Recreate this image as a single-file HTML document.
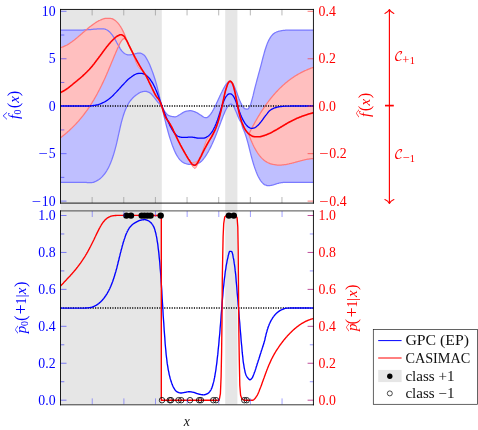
<!DOCTYPE html><html><head><meta charset="utf-8"><title>GPC vs CASIMAC</title><style>html,body{margin:0;padding:0;background:#fff}svg{display:block}</style></head><body><svg width="478" height="430" viewBox="0 0 478 430">
<rect width="478" height="430" fill="#fff"/>
<rect x="60.5" y="9.4" width="101.3" height="395.0" fill="#e6e6e6"/>
<rect x="225.2" y="9.4" width="12.2" height="395.0" fill="#e6e6e6"/>
<clipPath id="c0"><rect x="60.5" y="9.4" width="253.1" height="193.6"/></clipPath>
<clipPath id="c1"><rect x="60.5" y="211.0" width="253.1" height="193.4"/></clipPath>
<g clip-path="url(#c0)">
<path d="M60.5 30.1L61.0 30.1L61.5 30.1L62.0 30.1L62.5 30.1L63.0 30.1L63.5 30.1L64.0 30.1L64.5 30.1L65.0 30.1L65.5 30.1L66.0 30.1L66.5 30.1L67.0 30.1L67.5 30.1L68.0 30.1L68.5 30.1L69.0 30.1L69.5 30.1L70.0 30.1L70.5 30.1L71.0 30.1L71.5 30.1L72.0 30.1L72.5 30.1L73.0 30.1L73.5 30.1L74.0 30.1L74.5 30.1L75.0 30.1L75.5 30.1L76.0 30.1L76.5 30.1L77.0 30.1L77.5 30.1L78.0 30.1L78.5 30.1L79.0 30.1L79.5 30.1L80.0 30.1L80.5 30.1L81.0 30.0L81.5 30.0L82.0 30.0L82.5 30.0L83.0 30.0L83.5 30.0L84.0 29.9L84.5 29.9L85.0 29.9L85.5 29.9L86.0 29.8L86.5 29.8L87.0 29.8L87.5 29.7L88.0 29.7L88.5 29.7L89.0 29.6L89.5 29.6L90.0 29.6L90.5 29.5L91.0 29.5L91.5 29.4L92.0 29.4L92.5 29.3L93.0 29.3L93.5 29.2L94.0 29.2L94.5 29.1L95.0 29.1L95.5 29.0L96.0 29.0L96.5 29.0L97.0 28.9L97.5 28.9L98.0 28.8L98.5 28.8L99.0 28.8L99.5 28.8L100.0 28.8L100.5 28.8L101.0 28.8L101.5 28.8L102.0 28.8L102.5 28.8L103.0 28.9L103.5 28.9L104.0 28.9L104.5 29.0L105.0 29.1L105.5 29.3L106.0 29.5L106.5 29.8L107.0 30.0L107.5 30.3L108.0 30.6L108.5 31.0L109.0 31.4L109.5 31.8L110.0 32.3L110.5 32.9L111.0 33.5L111.5 34.1L112.0 34.7L112.5 35.4L113.0 36.1L113.5 36.9L114.0 37.7L114.5 38.5L115.0 39.3L115.5 40.2L116.0 41.1L116.5 42.0L117.0 43.0L117.5 43.9L118.0 44.8L118.5 45.7L119.0 46.5L119.5 47.4L120.0 48.3L120.5 49.1L121.0 49.8L121.5 50.5L122.0 51.1L122.5 51.6L123.0 52.2L123.5 52.7L124.0 53.1L124.5 53.5L125.0 53.8L125.5 54.0L126.0 54.2L126.5 54.5L127.0 54.6L127.5 54.8L128.0 54.9L128.5 54.9L129.0 54.9L129.5 54.8L130.0 54.8L130.5 54.8L131.0 54.7L131.5 54.7L132.0 54.6L132.5 54.5L133.0 54.4L133.5 54.3L134.0 54.1L134.5 54.0L135.0 53.8L135.5 53.7L136.0 53.6L136.5 53.5L137.0 53.3L137.5 53.2L138.0 53.1L138.5 53.1L139.0 53.0L139.5 53.0L140.0 53.1L140.5 53.2L141.0 53.3L141.5 53.5L142.0 53.8L142.5 54.1L143.0 54.3L143.5 54.7L144.0 55.0L144.5 55.5L145.0 56.2L145.5 56.9L146.0 57.7L146.5 58.5L147.0 59.4L147.5 60.3L148.0 61.2L148.5 62.2L149.0 63.2L149.5 64.3L150.0 65.5L150.5 66.7L151.0 68.0L151.5 69.3L152.0 70.6L152.5 71.9L153.0 73.3L153.5 74.7L154.0 76.2L154.5 77.7L155.0 79.3L155.5 80.9L156.0 82.7L156.5 84.5L157.0 86.4L157.5 88.4L158.0 90.3L158.5 92.3L159.0 94.4L159.5 96.7L160.0 99.0L160.5 101.2L161.0 103.2L161.5 104.7L162.0 106.1L162.5 107.3L163.0 108.4L163.5 109.4L164.0 110.4L164.5 111.2L165.0 111.9L165.5 112.5L166.0 113.1L166.5 113.7L167.0 114.2L167.5 114.7L168.0 115.1L168.5 115.4L169.0 115.7L169.5 115.8L170.0 116.0L170.5 116.1L171.0 116.3L171.5 116.4L172.0 116.5L172.5 116.6L173.0 116.6L173.5 116.7L174.0 116.8L174.5 116.8L175.0 116.8L175.5 116.8L176.0 116.7L176.5 116.5L177.0 116.3L177.5 116.0L178.0 115.7L178.5 115.4L179.0 115.1L179.5 114.7L180.0 114.5L180.5 114.2L181.0 113.9L181.5 113.6L182.0 113.2L182.5 112.9L183.0 112.6L183.5 112.3L184.0 112.0L184.5 111.8L185.0 111.6L185.5 111.4L186.0 111.3L186.5 111.2L187.0 111.1L187.5 111.0L188.0 110.9L188.5 110.8L189.0 110.8L189.5 110.7L190.0 110.7L190.5 110.7L191.0 110.7L191.5 110.8L192.0 110.9L192.5 111.1L193.0 111.2L193.5 111.4L194.0 111.5L194.5 111.7L195.0 111.9L195.5 112.1L196.0 112.3L196.5 112.5L197.0 112.8L197.5 113.1L198.0 113.4L198.5 113.7L199.0 114.1L199.5 114.4L200.0 114.7L200.5 115.0L201.0 115.3L201.5 115.6L202.0 116.0L202.5 116.4L203.0 116.7L203.5 117.0L204.0 117.3L204.5 117.5L205.0 117.6L205.5 117.6L206.0 117.5L206.5 117.5L207.0 117.5L207.5 117.2L208.0 116.9L208.5 116.5L209.0 116.0L209.5 115.5L210.0 114.9L210.5 114.4L211.0 113.7L211.5 112.9L212.0 112.1L212.5 111.2L213.0 110.3L213.5 109.5L214.0 108.5L214.5 107.6L215.0 106.6L215.5 105.5L216.0 104.5L216.5 103.4L217.0 102.4L217.5 101.3L218.0 100.2L218.5 99.1L219.0 98.0L219.5 96.9L220.0 95.8L220.5 94.8L221.0 93.7L221.5 92.7L222.0 91.7L222.5 90.6L223.0 89.7L223.5 88.8L224.0 87.9L224.5 87.0L225.0 86.1L225.5 85.3L226.0 84.6L226.5 83.9L227.0 83.3L227.5 82.7L228.0 82.1L228.5 81.7L229.0 81.4L229.5 81.4L230.0 81.4L230.5 81.4L231.0 81.5L231.5 81.8L232.0 82.3L232.5 83.1L233.0 84.0L233.5 84.9L234.0 85.8L234.5 87.0L235.0 88.2L235.5 89.5L236.0 90.7L236.5 92.0L237.0 93.3L237.5 94.7L238.0 96.1L238.5 97.4L239.0 98.7L239.5 99.9L240.0 101.1L240.5 102.2L241.0 103.4L241.5 104.4L242.0 105.4L242.5 106.2L243.0 106.8L243.5 107.5L244.0 108.1L244.5 108.5L245.0 108.8L245.5 108.9L246.0 108.9L246.5 109.0L247.0 109.0L247.5 109.0L248.0 108.9L248.5 108.5L249.0 107.7L249.5 106.8L250.0 105.8L250.5 104.7L251.0 103.2L251.5 101.5L252.0 99.7L252.5 97.8L253.0 95.9L253.5 93.8L254.0 91.6L254.5 89.6L255.0 87.6L255.5 85.7L256.0 83.8L256.5 81.9L257.0 80.0L257.5 78.1L258.0 76.3L258.5 74.4L259.0 72.6L259.5 70.8L260.0 69.0L260.5 67.2L261.0 65.3L261.5 63.3L262.0 61.4L262.5 59.4L263.0 57.5L263.5 55.7L264.0 53.9L264.5 52.0L265.0 50.3L265.5 48.7L266.0 47.2L266.5 45.7L267.0 44.4L267.5 43.1L268.0 41.9L268.5 40.9L269.0 39.9L269.5 39.0L270.0 38.1L270.5 37.3L271.0 36.5L271.5 35.9L272.0 35.3L272.5 34.8L273.0 34.3L273.5 33.8L274.0 33.4L274.5 33.1L275.0 32.8L275.5 32.5L276.0 32.3L276.5 32.0L277.0 31.8L277.5 31.7L278.0 31.5L278.5 31.3L279.0 31.2L279.5 31.1L280.0 31.0L280.5 30.9L281.0 30.8L281.5 30.7L282.0 30.6L282.5 30.5L283.0 30.4L283.5 30.4L284.0 30.3L284.5 30.3L285.0 30.3L285.5 30.2L286.0 30.2L286.5 30.2L287.0 30.2L287.5 30.2L288.0 30.2L288.5 30.2L289.0 30.2L289.5 30.1L290.0 30.1L290.5 30.1L291.0 30.1L291.5 30.1L292.0 30.1L292.5 30.1L293.0 30.1L293.5 30.1L294.0 30.1L294.5 30.1L295.0 30.1L295.5 30.1L296.0 30.1L296.5 30.1L297.0 30.1L297.5 30.1L298.0 30.1L298.5 30.1L299.0 30.1L299.5 30.1L300.0 30.1L300.5 30.1L301.0 30.1L301.5 30.1L302.0 30.1L302.5 30.1L303.0 30.1L303.5 30.1L304.0 30.1L304.5 30.1L305.0 30.1L305.5 30.1L306.0 30.1L306.5 30.1L307.0 30.1L307.5 30.1L308.0 30.1L308.5 30.1L309.0 30.1L309.5 30.1L310.0 30.1L310.5 30.1L311.0 30.1L311.5 30.1L312.0 30.1L312.5 30.1L313.0 30.1L313.5 30.1L313.6 30.1L313.6 182.4L313.5 182.4L313.0 182.4L312.5 182.4L312.0 182.4L311.5 182.4L311.0 182.4L310.5 182.4L310.0 182.4L309.5 182.4L309.0 182.4L308.5 182.4L308.0 182.4L307.5 182.4L307.0 182.4L306.5 182.4L306.0 182.4L305.5 182.4L305.0 182.4L304.5 182.4L304.0 182.4L303.5 182.4L303.0 182.4L302.5 182.4L302.0 182.4L301.5 182.4L301.0 182.4L300.5 182.4L300.0 182.4L299.5 182.4L299.0 182.4L298.5 182.4L298.0 182.4L297.5 182.4L297.0 182.4L296.5 182.4L296.0 182.4L295.5 182.4L295.0 182.4L294.5 182.4L294.0 182.4L293.5 182.4L293.0 182.4L292.5 182.4L292.0 182.4L291.5 182.4L291.0 182.4L290.5 182.4L290.0 182.4L289.5 182.4L289.0 182.4L288.5 182.4L288.0 182.4L287.5 182.4L287.0 182.4L286.5 182.4L286.0 182.4L285.5 182.4L285.0 182.4L284.5 182.4L284.0 182.4L283.5 182.4L283.0 182.4L282.5 182.5L282.0 182.5L281.5 182.6L281.0 182.7L280.5 182.8L280.0 182.9L279.5 183.0L279.0 183.1L278.5 183.3L278.0 183.4L277.5 183.5L277.0 183.6L276.5 183.8L276.0 184.0L275.5 184.1L275.0 184.3L274.5 184.5L274.0 184.7L273.5 184.9L273.0 185.0L272.5 185.1L272.0 185.2L271.5 185.3L271.0 185.4L270.5 185.5L270.0 185.6L269.5 185.6L269.0 185.7L268.5 185.7L268.0 185.7L267.5 185.7L267.0 185.6L266.5 185.4L266.0 185.2L265.5 185.0L265.0 184.8L264.5 184.6L264.0 184.2L263.5 183.9L263.0 183.4L262.5 182.9L262.0 182.3L261.5 181.8L261.0 181.2L260.5 180.5L260.0 179.7L259.5 178.8L259.0 177.9L258.5 177.0L258.0 176.0L257.5 174.9L257.0 173.8L256.5 172.6L256.0 171.3L255.5 169.9L255.0 168.6L254.5 167.1L254.0 165.6L253.5 164.0L253.0 162.3L252.5 160.6L252.0 158.8L251.5 157.0L251.0 155.1L250.5 153.2L250.0 151.1L249.5 149.1L249.0 147.0L248.5 145.0L248.0 143.1L247.5 141.3L247.0 139.5L246.5 137.9L246.0 136.3L245.5 134.7L245.0 133.3L244.5 131.9L244.0 130.7L243.5 129.6L243.0 128.5L242.5 127.1L242.0 125.2L241.5 123.5L241.0 122.3L240.5 121.4L240.0 120.6L239.5 119.7L239.0 118.7L238.5 117.6L238.0 116.4L237.5 115.2L237.0 114.0L236.5 112.8L236.0 111.6L235.5 110.4L235.0 109.2L234.5 107.9L234.0 106.9L233.5 106.1L233.0 105.5L232.5 105.0L232.0 104.5L231.5 104.2L231.0 104.1L230.5 104.2L230.0 104.4L229.5 104.7L229.0 105.1L228.5 105.5L228.0 106.0L227.5 106.7L227.0 107.6L226.5 108.5L226.0 109.5L225.5 110.5L225.0 111.6L224.5 112.7L224.0 113.9L223.5 115.1L223.0 116.4L222.5 117.7L222.0 119.0L221.5 120.3L221.0 121.6L220.5 123.0L220.0 124.3L219.5 125.7L219.0 127.0L218.5 128.4L218.0 129.8L217.5 131.1L217.0 132.4L216.5 133.7L216.0 134.9L215.5 136.2L215.0 137.4L214.5 138.6L214.0 139.8L213.5 141.0L213.0 142.1L212.5 143.2L212.0 144.3L211.5 145.3L211.0 146.4L210.5 147.4L210.0 148.4L209.5 149.3L209.0 150.3L208.5 151.2L208.0 152.1L207.5 152.9L207.0 153.8L206.5 154.6L206.0 155.4L205.5 156.2L205.0 156.9L204.5 157.6L204.0 158.2L203.5 158.9L203.0 159.5L202.5 160.1L202.0 160.7L201.5 161.2L201.0 161.6L200.5 162.0L200.0 162.4L199.5 162.7L199.0 163.0L198.5 163.3L198.0 163.6L197.5 163.8L197.0 164.0L196.5 164.2L196.0 164.3L195.5 164.4L195.0 164.4L194.5 164.4L194.0 164.4L193.5 164.4L193.0 164.4L192.5 164.4L192.0 164.4L191.5 164.4L191.0 164.4L190.5 164.4L190.0 164.4L189.5 164.4L189.0 164.4L188.5 164.3L188.0 164.2L187.5 164.1L187.0 164.0L186.5 163.8L186.0 163.7L185.5 163.5L185.0 163.4L184.5 163.2L184.0 163.0L183.5 162.7L183.0 162.4L182.5 162.0L182.0 161.7L181.5 161.3L181.0 160.8L180.5 160.4L180.0 159.9L179.5 159.3L179.0 158.7L178.5 158.0L178.0 157.2L177.5 156.5L177.0 155.7L176.5 154.8L176.0 153.9L175.5 152.9L175.0 151.8L174.5 150.7L174.0 149.5L173.5 148.3L173.0 147.1L172.5 145.8L172.0 144.4L171.5 142.9L171.0 141.4L170.5 139.9L170.0 138.3L169.5 136.7L169.0 135.0L168.5 133.3L168.0 131.5L167.5 129.7L167.0 127.9L166.5 126.0L166.0 124.0L165.5 121.9L165.0 119.9L164.5 117.8L164.0 115.9L163.5 113.7L163.0 111.5L162.5 109.5L162.0 107.7L161.5 106.4L161.0 105.6L160.5 104.9L160.0 104.4L159.5 103.9L159.0 103.4L158.5 102.9L158.0 102.4L157.5 101.8L157.0 101.2L156.5 100.5L156.0 99.8L155.5 99.1L155.0 98.4L154.5 97.8L154.0 97.1L153.5 96.6L153.0 96.0L152.5 95.4L152.0 94.8L151.5 94.3L151.0 93.8L150.5 93.3L150.0 92.9L149.5 92.6L149.0 92.4L148.5 92.2L148.0 92.0L147.5 91.8L147.0 91.6L146.5 91.4L146.0 91.3L145.5 91.3L145.0 91.3L144.5 91.3L144.0 91.4L143.5 91.5L143.0 91.6L142.5 91.7L142.0 91.8L141.5 92.0L141.0 92.1L140.5 92.3L140.0 92.5L139.5 92.8L139.0 93.1L138.5 93.4L138.0 93.7L137.5 94.1L137.0 94.4L136.5 94.8L136.0 95.1L135.5 95.5L135.0 95.9L134.5 96.3L134.0 96.8L133.5 97.2L133.0 97.7L132.5 98.3L132.0 98.8L131.5 99.4L131.0 100.0L130.5 100.6L130.0 101.2L129.5 101.9L129.0 102.7L128.5 103.5L128.0 104.4L127.5 105.3L127.0 106.3L126.5 107.3L126.0 108.4L125.5 109.6L125.0 110.8L124.5 112.1L124.0 113.5L123.5 115.0L123.0 116.6L122.5 118.3L122.0 120.1L121.5 121.9L121.0 123.9L120.5 126.0L120.0 128.2L119.5 130.5L119.0 132.7L118.5 134.9L118.0 137.2L117.5 139.5L117.0 141.7L116.5 143.8L116.0 145.8L115.5 147.7L115.0 149.6L114.5 151.4L114.0 153.1L113.5 154.8L113.0 156.3L112.5 157.8L112.0 159.3L111.5 160.6L111.0 161.9L110.5 163.2L110.0 164.3L109.5 165.5L109.0 166.5L108.5 167.6L108.0 168.5L107.5 169.4L107.0 170.3L106.5 171.1L106.0 171.9L105.5 172.6L105.0 173.3L104.5 174.0L104.0 174.6L103.5 175.2L103.0 175.8L102.5 176.3L102.0 176.9L101.5 177.4L101.0 177.9L100.5 178.3L100.0 178.8L99.5 179.1L99.0 179.5L98.5 179.8L98.0 180.1L97.5 180.4L97.0 180.7L96.5 180.9L96.0 181.2L95.5 181.5L95.0 181.7L94.5 181.9L94.0 182.1L93.5 182.3L93.0 182.4L92.5 182.5L92.0 182.6L91.5 182.6L91.0 182.6L90.5 182.6L90.0 182.6L89.5 182.6L89.0 182.5L88.5 182.5L88.0 182.5L87.5 182.5L87.0 182.5L86.5 182.4L86.0 182.4L85.5 182.4L85.0 182.4L84.5 182.4L84.0 182.4L83.5 182.4L83.0 182.4L82.5 182.4L82.0 182.4L81.5 182.4L81.0 182.4L80.5 182.4L80.0 182.4L79.5 182.4L79.0 182.4L78.5 182.4L78.0 182.4L77.5 182.4L77.0 182.4L76.5 182.4L76.0 182.4L75.5 182.4L75.0 182.4L74.5 182.4L74.0 182.4L73.5 182.4L73.0 182.4L72.5 182.4L72.0 182.4L71.5 182.4L71.0 182.4L70.5 182.4L70.0 182.4L69.5 182.4L69.0 182.4L68.5 182.4L68.0 182.4L67.5 182.4L67.0 182.4L66.5 182.4L66.0 182.4L65.5 182.4L65.0 182.4L64.5 182.4L64.0 182.4L63.5 182.4L63.0 182.4L62.5 182.4L62.0 182.4L61.5 182.4L61.0 182.4L60.5 182.4Z" fill="#bfbfff"/>
<path d="M60.5 47.7L61.0 47.5L61.5 47.4L62.0 47.2L62.5 47.0L63.0 46.8L63.5 46.6L64.0 46.4L64.5 46.2L65.0 45.9L65.5 45.7L66.0 45.5L66.5 45.2L67.0 45.0L67.5 44.7L68.0 44.4L68.5 44.1L69.0 43.8L69.5 43.4L70.0 43.1L70.5 42.7L71.0 42.4L71.5 42.0L72.0 41.7L72.5 41.3L73.0 40.9L73.5 40.5L74.0 40.2L74.5 39.8L75.0 39.4L75.5 39.0L76.0 38.6L76.5 38.2L77.0 37.8L77.5 37.4L78.0 36.9L78.5 36.5L79.0 36.1L79.5 35.6L80.0 35.2L80.5 34.8L81.0 34.3L81.5 33.9L82.0 33.5L82.5 33.0L83.0 32.6L83.5 32.2L84.0 31.8L84.5 31.4L85.0 30.9L85.5 30.5L86.0 30.1L86.5 29.6L87.0 29.2L87.5 28.8L88.0 28.3L88.5 27.9L89.0 27.5L89.5 27.1L90.0 26.7L90.5 26.3L91.0 26.0L91.5 25.6L92.0 25.2L92.5 24.9L93.0 24.5L93.5 24.1L94.0 23.8L94.5 23.4L95.0 23.1L95.5 22.7L96.0 22.4L96.5 22.1L97.0 21.8L97.5 21.5L98.0 21.2L98.5 20.9L99.0 20.7L99.5 20.5L100.0 20.3L100.5 20.0L101.0 19.8L101.5 19.6L102.0 19.4L102.5 19.2L103.0 19.0L103.5 18.8L104.0 18.7L104.5 18.6L105.0 18.4L105.5 18.4L106.0 18.3L106.5 18.3L107.0 18.3L107.5 18.3L108.0 18.3L108.5 18.3L109.0 18.3L109.5 18.4L110.0 18.4L110.5 18.4L111.0 18.5L111.5 18.6L112.0 18.7L112.5 18.9L113.0 19.2L113.5 19.4L114.0 19.7L114.5 20.0L115.0 20.4L115.5 20.7L116.0 21.1L116.5 21.6L117.0 22.1L117.5 22.6L118.0 23.2L118.5 23.8L119.0 24.4L119.5 25.0L120.0 25.8L120.5 26.5L121.0 27.4L121.5 28.2L122.0 29.1L122.5 30.1L123.0 31.1L123.5 32.1L124.0 33.2L124.5 34.4L125.0 35.6L125.5 36.9L126.0 38.2L126.0 39.7L125.5 39.2L125.0 38.8L124.5 38.6L124.0 38.6L123.5 38.8L123.0 39.1L122.5 39.6L122.0 40.2L121.5 40.8L121.0 41.5L120.5 42.3L120.0 43.3L119.5 44.3L119.0 45.4L118.5 46.5L118.0 47.5L117.5 48.6L117.0 49.8L116.5 50.9L116.0 52.1L115.5 53.3L115.0 54.4L114.5 55.6L114.0 56.8L113.5 58.0L113.0 59.2L112.5 60.4L112.0 61.6L111.5 62.8L111.0 64.0L110.5 65.2L110.0 66.4L109.5 67.6L109.0 68.8L108.5 70.0L108.0 71.2L107.5 72.3L107.0 73.5L106.5 74.7L106.0 75.8L105.5 76.9L105.0 78.1L104.5 79.2L104.0 80.2L103.5 81.3L103.0 82.4L102.5 83.4L102.0 84.4L101.5 85.5L101.0 86.5L100.5 87.5L100.0 88.5L99.5 89.5L99.0 90.4L98.5 91.4L98.0 92.3L97.5 93.3L97.0 94.2L96.5 95.1L96.0 96.0L95.5 96.9L95.0 97.7L94.5 98.6L94.0 99.5L93.5 100.3L93.0 101.1L92.5 101.9L92.0 102.8L91.5 103.5L91.0 104.3L90.5 105.1L90.0 105.9L89.5 106.6L89.0 107.4L88.5 108.1L88.0 108.8L87.5 109.6L87.0 110.3L86.5 111.0L86.0 111.7L85.5 112.4L85.0 113.0L84.5 113.7L84.0 114.4L83.5 115.0L83.0 115.7L82.5 116.3L82.0 116.9L81.5 117.5L81.0 118.1L80.5 118.7L80.0 119.3L79.5 119.9L79.0 120.5L78.5 121.1L78.0 121.6L77.5 122.2L77.0 122.7L76.5 123.3L76.0 123.8L75.5 124.4L75.0 124.9L74.5 125.4L74.0 125.9L73.5 126.4L73.0 126.9L72.5 127.4L72.0 127.9L71.5 128.4L71.0 128.8L70.5 129.3L70.0 129.8L69.5 130.2L69.0 130.7L68.5 131.1L68.0 131.6L67.5 132.0L67.0 132.5L66.5 132.9L66.0 133.3L65.5 133.8L65.0 134.2L64.5 134.6L64.0 135.0L63.5 135.4L63.0 135.8L62.5 136.2L62.0 136.6L61.5 137.0L61.0 137.4L60.5 137.8Z" fill="#ffbfbf"/>
<path d="M126.0 38.7L126.5 39.6L127.0 40.6L127.5 41.6L128.0 42.6L128.5 43.7L129.0 44.7L129.5 45.7L130.0 46.7L130.5 47.7L131.0 48.8L131.5 49.8L132.0 50.8L132.5 51.8L133.0 52.8L133.5 53.8L134.0 54.7L134.5 55.7L135.0 56.7L135.5 57.6L136.0 58.6L136.5 59.5L137.0 60.4L137.5 61.3L138.0 62.2L138.5 63.1L139.0 64.0L139.5 64.9L140.0 65.7L140.5 66.5L141.0 67.4L141.5 68.2L142.0 69.0L142.5 69.8L143.0 70.6L143.5 71.3L144.0 72.1L144.5 72.8L145.0 73.6L145.5 74.4L146.0 75.2L146.5 76.1L147.0 77.1L147.5 78.1L148.0 79.1L148.5 80.1L149.0 81.2L149.5 82.2L150.0 83.3L150.5 84.3L151.0 85.3L151.5 86.4L152.0 87.4L152.5 88.5L153.0 89.5L153.5 90.6L154.0 91.6L154.5 92.6L155.0 93.5L155.5 94.4L156.0 95.3L156.5 96.0L157.0 96.7L157.5 97.3L158.0 97.8L158.5 98.5L159.0 99.2L159.5 100.1L160.0 101.1L160.5 102.2L161.0 103.5L161.5 104.8L162.0 106.4L162.5 108.0L163.0 109.6L163.5 111.2L164.0 112.8L164.5 114.2L165.0 115.5L165.5 116.6L166.0 117.5L166.5 118.3L167.0 119.0L167.5 119.7L168.0 120.3L168.5 121.0L169.0 121.7L169.5 122.6L170.0 123.4L170.5 124.3L171.0 125.2L171.5 126.1L172.0 127.1L172.5 128.1L173.0 129.1L173.5 130.2L174.0 131.2L174.5 132.2L175.0 133.3L175.5 134.4L176.0 135.4L176.5 136.5L177.0 137.5L177.5 138.5L178.0 139.6L178.5 140.6L179.0 141.6L179.5 142.5L180.0 143.5L180.5 144.5L181.0 145.4L181.5 146.4L182.0 147.3L182.5 148.2L183.0 149.1L183.5 150.0L184.0 150.9L184.5 151.8L185.0 152.6L185.5 153.5L186.0 154.3L186.5 155.2L187.0 156.0L187.5 156.9L188.0 157.7L188.5 158.4L189.0 159.2L189.5 159.9L190.0 160.5L190.5 161.2L191.0 161.8L191.5 162.3L192.0 162.6L192.5 162.6L193.0 162.5L193.5 162.4L194.0 162.3L194.5 162.2L195.0 162.1L195.5 162.0L196.0 161.7L196.5 161.5L197.0 161.2L197.5 160.9L198.0 160.4L198.5 159.8L199.0 159.0L199.5 158.2L200.0 157.2L200.5 156.2L201.0 155.1L201.5 153.9L202.0 152.7L202.5 151.3L203.0 149.9L203.5 148.4L204.0 146.9L204.5 145.5L205.0 144.0L205.5 142.7L206.0 141.4L206.5 140.3L207.0 139.3L207.5 138.4L208.0 137.7L208.5 137.2L209.0 136.7L209.5 136.4L210.0 136.1L210.5 135.7L211.0 135.4L211.5 135.0L212.0 134.5L212.5 133.8L213.0 133.1L213.5 132.3L214.0 131.4L214.5 130.5L215.0 129.4L215.5 128.3L216.0 127.1L216.5 125.8L217.0 124.4L217.5 122.9L218.0 121.3L218.5 119.7L219.0 118.0L219.5 116.1L220.0 114.2L220.5 112.2L221.0 110.1L221.5 108.0L222.0 105.7L222.5 103.4L223.0 101.2L223.5 98.9L224.0 96.5L224.5 94.3L225.0 92.2L225.5 90.2L226.0 88.5L226.5 86.8L227.0 85.3L227.5 83.9L228.0 82.8L228.5 82.0L229.0 81.3L229.5 80.8L230.0 80.6L230.5 80.6L231.0 81.0L231.5 81.5L232.0 82.2L232.5 83.0L233.0 84.3L233.5 85.9L234.0 87.7L234.5 89.6L235.0 91.8L235.5 94.3L236.0 96.9L236.5 99.4L237.0 101.9L237.5 104.4L238.0 106.9L238.5 109.4L239.0 111.7L239.5 113.7L240.0 115.7L240.5 117.5L241.0 119.2L241.5 120.8L242.0 122.2L242.5 123.4L243.0 124.6L243.5 125.7L244.0 126.8L244.5 127.7L245.0 128.6L245.5 129.4L246.0 130.1L246.5 130.8L247.0 131.4L247.5 132.0L248.0 132.6L248.5 133.1L249.0 133.5L249.0 134.7L248.5 134.3L248.0 133.8L247.5 133.2L247.0 132.6L246.5 132.0L246.0 131.3L245.5 130.6L245.0 129.8L244.5 128.9L244.0 128.0L243.5 126.9L243.0 125.8L242.5 124.6L242.0 123.4L241.5 122.0L241.0 120.4L240.5 118.7L240.0 116.9L239.5 114.9L239.0 112.9L238.5 110.6L238.0 108.1L237.5 105.6L237.0 103.1L236.5 100.6L236.0 98.1L235.5 95.5L235.0 93.0L234.5 90.8L234.0 88.9L233.5 87.1L233.0 85.5L232.5 84.2L232.0 83.4L231.5 82.7L231.0 82.2L230.5 81.8L230.0 81.8L229.5 82.0L229.0 82.5L228.5 83.2L228.0 84.0L227.5 85.1L227.0 86.5L226.5 88.0L226.0 89.7L225.5 91.4L225.0 93.4L224.5 95.5L224.0 97.7L223.5 100.1L223.0 102.4L222.5 104.6L222.0 106.9L221.5 109.2L221.0 111.3L220.5 113.4L220.0 115.4L219.5 117.3L219.0 119.2L218.5 120.9L218.0 122.6L217.5 124.1L217.0 125.6L216.5 127.0L216.0 128.4L215.5 129.6L215.0 130.7L214.5 131.8L214.0 132.9L213.5 133.9L213.0 134.9L212.5 135.8L212.0 136.7L211.5 137.6L211.0 138.5L210.5 139.3L210.0 140.1L209.5 140.9L209.0 141.8L208.5 142.7L208.0 143.6L207.5 144.5L207.0 145.4L206.5 146.3L206.0 147.2L205.5 148.1L205.0 149.1L204.5 150.0L204.0 150.9L203.5 151.9L203.0 152.9L202.5 153.9L202.0 154.9L201.5 155.9L201.0 156.9L200.5 158.0L200.0 159.0L199.5 160.0L199.0 161.2L198.5 162.4L198.0 163.6L197.5 164.7L197.0 165.8L196.5 166.7L196.0 167.6L195.5 168.2L195.0 168.5L194.5 168.4L194.0 168.1L193.5 167.6L193.0 167.1L192.5 166.4L192.0 165.7L191.5 164.8L191.0 163.9L190.5 163.0L190.0 162.1L189.5 161.2L189.0 160.5L188.5 159.7L188.0 158.9L187.5 158.1L187.0 157.2L186.5 156.4L186.0 155.5L185.5 154.7L185.0 153.8L184.5 153.0L184.0 152.1L183.5 151.2L183.0 150.3L182.5 149.4L182.0 148.5L181.5 147.6L181.0 146.6L180.5 145.7L180.0 144.7L179.5 143.7L179.0 142.8L178.5 141.8L178.0 140.8L177.5 139.7L177.0 138.7L176.5 137.7L176.0 136.6L175.5 135.6L175.0 134.5L174.5 133.4L174.0 132.4L173.5 131.4L173.0 130.3L172.5 129.3L172.0 128.3L171.5 127.3L171.0 126.4L170.5 125.5L170.0 124.6L169.5 123.8L169.0 122.9L168.5 122.2L168.0 121.5L167.5 120.9L167.0 120.2L166.5 119.5L166.0 118.7L165.5 117.8L165.0 116.7L164.5 115.4L164.0 114.0L163.5 112.4L163.0 110.8L162.5 109.2L162.0 107.6L161.5 106.0L161.0 104.7L160.5 103.4L160.0 102.3L159.5 101.3L159.0 100.4L158.5 99.7L158.0 99.0L157.5 98.5L157.0 97.9L156.5 97.2L156.0 96.5L155.5 95.6L155.0 94.7L154.5 93.8L154.0 92.8L153.5 91.8L153.0 90.7L152.5 89.7L152.0 88.6L151.5 87.6L151.0 86.5L150.5 85.5L150.0 84.5L149.5 83.4L149.0 82.4L148.5 81.3L148.0 80.3L147.5 79.3L147.0 78.3L146.5 77.3L146.0 76.4L145.5 75.6L145.0 74.8L144.5 74.1L144.0 73.4L143.5 72.7L143.0 72.0L142.5 71.4L142.0 70.8L141.5 70.2L141.0 69.7L140.5 69.3L140.0 68.8L139.5 68.4L139.0 67.9L138.5 67.3L138.0 66.6L137.5 65.7L137.0 64.7L136.5 63.6L136.0 62.4L135.5 61.1L135.0 59.8L134.5 58.4L134.0 57.1L133.5 55.8L133.0 54.6L132.5 53.4L132.0 52.2L131.5 51.1L131.0 50.1L130.5 49.0L130.0 47.9L129.5 46.9L129.0 45.9L128.5 44.9L128.0 43.8L127.5 42.8L127.0 41.8L126.5 40.8L126.0 39.9Z" fill="#ffbfbf"/>
<path d="M249.0 133.7L249.5 132.7L250.0 131.7L250.5 130.7L251.0 129.7L251.5 128.8L252.0 127.8L252.5 126.9L253.0 125.9L253.5 125.0L254.0 124.1L254.5 123.1L255.0 122.2L255.5 121.3L256.0 120.5L256.5 119.6L257.0 118.7L257.5 117.9L258.0 117.0L258.5 116.2L259.0 115.4L259.5 114.6L260.0 113.7L260.5 112.9L261.0 112.2L261.5 111.4L262.0 110.6L262.5 109.8L263.0 109.1L263.5 108.3L264.0 107.6L264.5 106.9L265.0 106.1L265.5 105.4L266.0 104.7L266.5 104.0L267.0 103.3L267.5 102.7L268.0 102.0L268.5 101.3L269.0 100.7L269.5 100.0L270.0 99.4L270.5 98.7L271.0 98.1L271.5 97.5L272.0 96.9L272.5 96.3L273.0 95.7L273.5 95.1L274.0 94.5L274.5 94.0L275.0 93.4L275.5 92.8L276.0 92.3L276.5 91.7L277.0 91.2L277.5 90.7L278.0 90.2L278.5 89.6L279.0 89.1L279.5 88.6L280.0 88.1L280.5 87.6L281.0 87.2L281.5 86.7L282.0 86.2L282.5 85.8L283.0 85.3L283.5 84.9L284.0 84.4L284.5 84.0L285.0 83.5L285.5 83.1L286.0 82.7L286.5 82.3L287.0 81.9L287.5 81.5L288.0 81.1L288.5 80.7L289.0 80.3L289.5 79.9L290.0 79.6L290.5 79.2L291.0 78.8L291.5 78.5L292.0 78.1L292.5 77.8L293.0 77.4L293.5 77.1L294.0 76.8L294.5 76.5L295.0 76.1L295.5 75.8L296.0 75.5L296.5 75.2L297.0 74.9L297.5 74.6L298.0 74.3L298.5 74.0L299.0 73.7L299.5 73.5L300.0 73.2L300.5 72.9L301.0 72.7L301.5 72.4L302.0 72.1L302.5 71.9L303.0 71.6L303.5 71.4L304.0 71.2L304.5 70.9L305.0 70.7L305.5 70.5L306.0 70.3L306.5 70.0L307.0 69.8L307.5 69.6L308.0 69.4L308.5 69.2L309.0 69.0L309.5 68.8L310.0 68.6L310.5 68.4L311.0 68.2L311.5 68.0L312.0 67.8L312.5 67.6L313.0 67.5L313.5 67.3L313.6 67.3L313.6 158.5L313.5 158.5L313.0 158.5L312.5 158.5L312.0 158.6L311.5 158.6L311.0 158.7L310.5 158.8L310.0 158.8L309.5 158.9L309.0 159.0L308.5 159.0L308.0 159.1L307.5 159.2L307.0 159.3L306.5 159.4L306.0 159.5L305.5 159.6L305.0 159.7L304.5 159.9L304.0 160.0L303.5 160.1L303.0 160.2L302.5 160.4L302.0 160.5L301.5 160.6L301.0 160.7L300.5 160.9L300.0 161.0L299.5 161.1L299.0 161.3L298.5 161.4L298.0 161.5L297.5 161.7L297.0 161.8L296.5 161.9L296.0 162.1L295.5 162.2L295.0 162.4L294.5 162.5L294.0 162.6L293.5 162.8L293.0 162.9L292.5 163.0L292.0 163.2L291.5 163.3L291.0 163.4L290.5 163.5L290.0 163.6L289.5 163.7L289.0 163.9L288.5 164.0L288.0 164.1L287.5 164.2L287.0 164.3L286.5 164.4L286.0 164.5L285.5 164.5L285.0 164.6L284.5 164.7L284.0 164.7L283.5 164.8L283.0 164.8L282.5 164.9L282.0 164.9L281.5 165.0L281.0 165.0L280.5 165.0L280.0 165.0L279.5 165.1L279.0 165.1L278.5 165.1L278.0 165.0L277.5 165.0L277.0 165.0L276.5 164.9L276.0 164.9L275.5 164.8L275.0 164.7L274.5 164.7L274.0 164.6L273.5 164.5L273.0 164.4L272.5 164.3L272.0 164.2L271.5 164.1L271.0 163.9L270.5 163.8L270.0 163.6L269.5 163.4L269.0 163.2L268.5 163.0L268.0 162.7L267.5 162.5L267.0 162.2L266.5 161.9L266.0 161.6L265.5 161.3L265.0 160.9L264.5 160.5L264.0 160.2L263.5 159.7L263.0 159.3L262.5 158.9L262.0 158.4L261.5 157.9L261.0 157.3L260.5 156.8L260.0 156.2L259.5 155.6L259.0 154.9L258.5 154.3L258.0 153.5L257.5 152.8L257.0 152.0L256.5 151.2L256.0 150.4L255.5 149.5L255.0 148.6L254.5 147.7L254.0 146.8L253.5 145.7L253.0 144.7L252.5 143.6L252.0 142.5L251.5 141.3L251.0 140.2L250.5 138.9L250.0 137.6L249.5 136.3L249.0 134.9Z" fill="#ffbfbf"/>
<path d="M60.5 30.1L61.0 30.1L61.5 30.1L62.0 30.1L62.5 30.1L63.0 30.1L63.5 30.1L64.0 30.1L64.5 30.1L65.0 30.1L65.5 30.1L66.0 30.1L66.5 30.1L67.0 30.1L67.5 30.1L68.0 30.1L68.5 30.1L69.0 30.1L69.5 30.1L70.0 30.1L70.5 30.1L71.0 30.1L71.5 30.1L72.0 30.1L72.5 30.1L73.0 30.1L73.5 30.1L74.0 30.1L74.5 30.1L75.0 30.1L75.5 30.1L76.0 30.1L76.5 30.1L77.0 30.1L77.5 30.1L78.0 30.1L78.5 30.1L79.0 30.1L79.5 30.1L80.0 30.1L80.5 30.1L81.0 30.0L81.5 30.0L82.0 30.0L82.5 30.0L83.0 30.0L83.5 30.0L84.0 29.9L84.5 29.9L85.0 29.9L85.5 29.9L86.0 29.8L86.5 29.8L87.0 29.8L87.5 29.7L88.0 29.7L88.5 29.7L89.0 29.6L89.5 29.6L90.0 29.6L90.5 29.5L91.0 29.5L91.5 29.4L92.0 29.4L92.5 29.3L93.0 29.3L93.5 29.2L94.0 29.2L94.5 29.1L95.0 29.1L95.5 29.0L96.0 29.0L96.5 29.0L97.0 28.9L97.5 28.9L98.0 28.8L98.5 28.8L99.0 28.8L99.5 28.8L100.0 28.8L100.5 28.8L101.0 28.8L101.5 28.8L102.0 28.8L102.5 28.8L103.0 28.9L103.5 28.9L104.0 28.9L104.5 29.0L105.0 29.1L105.5 29.3L106.0 29.5L106.5 29.8L107.0 30.0L107.5 30.3L108.0 30.6L108.5 31.0L109.0 31.4L109.5 31.8L110.0 32.3L110.5 32.9L111.0 33.5L111.5 34.1L112.0 34.7L112.5 35.4L113.0 36.1L113.5 36.9L114.0 37.7L114.5 38.5L115.0 39.3L115.5 40.2L116.0 41.1L116.5 42.0L117.0 43.0L117.5 43.9L118.0 44.8L118.5 45.7L119.0 46.5L119.5 47.4L120.0 48.3L120.5 49.1L121.0 49.8L121.5 50.5L122.0 51.1L122.5 51.6L123.0 52.2L123.5 52.7L124.0 53.1L124.5 53.5L125.0 53.8L125.5 54.0L126.0 54.2L126.5 54.5L127.0 54.6L127.5 54.8L128.0 54.9L128.5 54.9L129.0 54.9L129.5 54.8L130.0 54.8L130.5 54.8L131.0 54.7L131.5 54.7L132.0 54.6L132.5 54.5L133.0 54.4L133.5 54.3L134.0 54.1L134.5 54.0L135.0 53.8L135.5 53.7L136.0 53.6L136.5 53.5L137.0 53.3L137.5 53.2L138.0 53.1L138.5 53.1L139.0 53.0L139.5 53.0L140.0 53.1L140.5 53.2L141.0 53.3L141.5 53.5L142.0 53.8L142.5 54.1L143.0 54.3L143.5 54.7L144.0 55.0L144.5 55.5L145.0 56.2L145.5 56.9L146.0 57.7L146.5 58.5L147.0 59.4L147.5 60.3L148.0 61.2L148.5 62.2L149.0 63.2L149.5 64.3L150.0 65.5L150.5 66.7L151.0 68.0L151.5 69.3L152.0 70.6L152.5 71.9L153.0 73.3L153.5 74.7L154.0 76.2L154.5 77.7L155.0 79.3L155.5 80.9L156.0 82.7L156.5 84.5L157.0 86.4L157.5 88.4L158.0 90.3L158.5 92.3L159.0 94.4L159.5 96.7L160.0 99.0L160.5 101.2L161.0 103.2L161.5 104.7L162.0 106.1L162.5 107.3L163.0 108.4L163.5 109.4L164.0 110.4L164.5 111.2L165.0 111.9L165.5 112.5L166.0 113.1L166.5 113.7L167.0 114.2L167.5 114.7L168.0 115.1L168.5 115.4L169.0 115.7L169.5 115.8L170.0 116.0L170.5 116.1L171.0 116.3L171.5 116.4L172.0 116.5L172.5 116.6L173.0 116.6L173.5 116.7L174.0 116.8L174.5 116.8L175.0 116.8L175.5 116.8L176.0 116.7L176.5 116.5L177.0 116.3L177.5 116.0L178.0 115.7L178.5 115.4L179.0 115.1L179.5 114.7L180.0 114.5L180.5 114.2L181.0 113.9L181.5 113.6L182.0 113.2L182.5 112.9L183.0 112.6L183.5 112.3L184.0 112.0L184.5 111.8L185.0 111.6L185.5 111.4L186.0 111.3L186.5 111.2L187.0 111.1L187.5 111.0L188.0 110.9L188.5 110.8L189.0 110.8L189.5 110.7L190.0 110.7L190.5 110.7L191.0 110.7L191.5 110.8L192.0 110.9L192.5 111.1L193.0 111.2L193.5 111.4L194.0 111.5L194.5 111.7L195.0 111.9L195.5 112.1L196.0 112.3L196.5 112.5L197.0 112.8L197.5 113.1L198.0 113.4L198.5 113.7L199.0 114.1L199.5 114.4L200.0 114.7L200.5 115.0L201.0 115.3L201.5 115.6L202.0 116.0L202.5 116.4L203.0 116.7L203.5 117.0L204.0 117.3L204.5 117.5L205.0 117.6L205.5 117.6L206.0 117.5L206.5 117.5L207.0 117.5L207.5 117.2L208.0 116.9L208.5 116.5L209.0 116.0L209.5 115.5L210.0 114.9L210.5 114.4L211.0 113.7L211.5 112.9L212.0 112.1L212.5 111.2L213.0 110.3L213.5 109.5L214.0 108.5L214.5 107.6L215.0 106.6L215.5 105.5L216.0 104.5L216.5 103.4L217.0 102.4L217.5 101.3L218.0 100.2L218.5 99.1L219.0 98.0L219.5 96.9L220.0 95.8L220.5 94.8L221.0 93.7L221.5 92.7L222.0 91.7L222.5 90.6L223.0 89.7L223.5 88.8L224.0 87.9L224.5 87.0L225.0 86.1L225.5 85.3L226.0 84.6L226.5 83.9L227.0 83.3L227.5 82.7L228.0 82.1L228.5 81.7L229.0 81.4L229.5 81.4L230.0 81.4L230.5 81.4L231.0 81.5L231.5 81.8L232.0 82.3L232.5 83.1L233.0 84.0L233.5 84.9L234.0 85.8L234.5 87.0L235.0 88.2L235.5 89.5L236.0 90.7L236.5 92.0L237.0 93.3L237.5 94.7L238.0 96.1L238.5 97.4L239.0 98.7L239.5 99.9L240.0 101.1L240.5 102.2L241.0 103.4L241.5 104.4L242.0 105.4L242.5 106.2L243.0 106.8L243.5 107.5L244.0 108.1L244.5 108.5L245.0 108.8L245.5 108.9L246.0 108.9L246.5 109.0L247.0 109.0L247.5 109.0L248.0 108.9L248.5 108.5L249.0 107.7L249.5 106.8L250.0 105.8L250.5 104.7L251.0 103.2L251.5 101.5L252.0 99.7L252.5 97.8L253.0 95.9L253.5 93.8L254.0 91.6L254.5 89.6L255.0 87.6L255.5 85.7L256.0 83.8L256.5 81.9L257.0 80.0L257.5 78.1L258.0 76.3L258.5 74.4L259.0 72.6L259.5 70.8L260.0 69.0L260.5 67.2L261.0 65.3L261.5 63.3L262.0 61.4L262.5 59.4L263.0 57.5L263.5 55.7L264.0 53.9L264.5 52.0L265.0 50.3L265.5 48.7L266.0 47.2L266.5 45.7L267.0 44.4L267.5 43.1L268.0 41.9L268.5 40.9L269.0 39.9L269.5 39.0L270.0 38.1L270.5 37.3L271.0 36.5L271.5 35.9L272.0 35.3L272.5 34.8L273.0 34.3L273.5 33.8L274.0 33.4L274.5 33.1L275.0 32.8L275.5 32.5L276.0 32.3L276.5 32.0L277.0 31.8L277.5 31.7L278.0 31.5L278.5 31.3L279.0 31.2L279.5 31.1L280.0 31.0L280.5 30.9L281.0 30.8L281.5 30.7L282.0 30.6L282.5 30.5L283.0 30.4L283.5 30.4L284.0 30.3L284.5 30.3L285.0 30.3L285.5 30.2L286.0 30.2L286.5 30.2L287.0 30.2L287.5 30.2L288.0 30.2L288.5 30.2L289.0 30.2L289.5 30.1L290.0 30.1L290.5 30.1L291.0 30.1L291.5 30.1L292.0 30.1L292.5 30.1L293.0 30.1L293.5 30.1L294.0 30.1L294.5 30.1L295.0 30.1L295.5 30.1L296.0 30.1L296.5 30.1L297.0 30.1L297.5 30.1L298.0 30.1L298.5 30.1L299.0 30.1L299.5 30.1L300.0 30.1L300.5 30.1L301.0 30.1L301.5 30.1L302.0 30.1L302.5 30.1L303.0 30.1L303.5 30.1L304.0 30.1L304.5 30.1L305.0 30.1L305.5 30.1L306.0 30.1L306.5 30.1L307.0 30.1L307.5 30.1L308.0 30.1L308.5 30.1L309.0 30.1L309.5 30.1L310.0 30.1L310.5 30.1L311.0 30.1L311.5 30.1L312.0 30.1L312.5 30.1L313.0 30.1L313.5 30.1L313.6 30.1" fill="none" stroke="#7a7aff" stroke-width="1.25"/>
<path d="M60.5 182.4L61.0 182.4L61.5 182.4L62.0 182.4L62.5 182.4L63.0 182.4L63.5 182.4L64.0 182.4L64.5 182.4L65.0 182.4L65.5 182.4L66.0 182.4L66.5 182.4L67.0 182.4L67.5 182.4L68.0 182.4L68.5 182.4L69.0 182.4L69.5 182.4L70.0 182.4L70.5 182.4L71.0 182.4L71.5 182.4L72.0 182.4L72.5 182.4L73.0 182.4L73.5 182.4L74.0 182.4L74.5 182.4L75.0 182.4L75.5 182.4L76.0 182.4L76.5 182.4L77.0 182.4L77.5 182.4L78.0 182.4L78.5 182.4L79.0 182.4L79.5 182.4L80.0 182.4L80.5 182.4L81.0 182.4L81.5 182.4L82.0 182.4L82.5 182.4L83.0 182.4L83.5 182.4L84.0 182.4L84.5 182.4L85.0 182.4L85.5 182.4L86.0 182.4L86.5 182.4L87.0 182.5L87.5 182.5L88.0 182.5L88.5 182.5L89.0 182.5L89.5 182.6L90.0 182.6L90.5 182.6L91.0 182.6L91.5 182.6L92.0 182.6L92.5 182.5L93.0 182.4L93.5 182.3L94.0 182.1L94.5 181.9L95.0 181.7L95.5 181.5L96.0 181.2L96.5 180.9L97.0 180.7L97.5 180.4L98.0 180.1L98.5 179.8L99.0 179.5L99.5 179.1L100.0 178.8L100.5 178.3L101.0 177.9L101.5 177.4L102.0 176.9L102.5 176.3L103.0 175.8L103.5 175.2L104.0 174.6L104.5 174.0L105.0 173.3L105.5 172.6L106.0 171.9L106.5 171.1L107.0 170.3L107.5 169.4L108.0 168.5L108.5 167.6L109.0 166.5L109.5 165.5L110.0 164.3L110.5 163.2L111.0 161.9L111.5 160.6L112.0 159.3L112.5 157.8L113.0 156.3L113.5 154.8L114.0 153.1L114.5 151.4L115.0 149.6L115.5 147.7L116.0 145.8L116.5 143.8L117.0 141.7L117.5 139.5L118.0 137.2L118.5 134.9L119.0 132.7L119.5 130.5L120.0 128.2L120.5 126.0L121.0 123.9L121.5 121.9L122.0 120.1L122.5 118.3L123.0 116.6L123.5 115.0L124.0 113.5L124.5 112.1L125.0 110.8L125.5 109.6L126.0 108.4L126.5 107.3L127.0 106.3L127.5 105.3L128.0 104.4L128.5 103.5L129.0 102.7L129.5 101.9L130.0 101.2L130.5 100.6L131.0 100.0L131.5 99.4L132.0 98.8L132.5 98.3L133.0 97.7L133.5 97.2L134.0 96.8L134.5 96.3L135.0 95.9L135.5 95.5L136.0 95.1L136.5 94.8L137.0 94.4L137.5 94.1L138.0 93.7L138.5 93.4L139.0 93.1L139.5 92.8L140.0 92.5L140.5 92.3L141.0 92.1L141.5 92.0L142.0 91.8L142.5 91.7L143.0 91.6L143.5 91.5L144.0 91.4L144.5 91.3L145.0 91.3L145.5 91.3L146.0 91.3L146.5 91.4L147.0 91.6L147.5 91.8L148.0 92.0L148.5 92.2L149.0 92.4L149.5 92.6L150.0 92.9L150.5 93.3L151.0 93.8L151.5 94.3L152.0 94.8L152.5 95.4L153.0 96.0L153.5 96.6L154.0 97.1L154.5 97.8L155.0 98.4L155.5 99.1L156.0 99.8L156.5 100.5L157.0 101.2L157.5 101.8L158.0 102.4L158.5 102.9L159.0 103.4L159.5 103.9L160.0 104.4L160.5 104.9L161.0 105.6L161.5 106.4L162.0 107.7L162.5 109.5L163.0 111.5L163.5 113.7L164.0 115.9L164.5 117.8L165.0 119.9L165.5 121.9L166.0 124.0L166.5 126.0L167.0 127.9L167.5 129.7L168.0 131.5L168.5 133.3L169.0 135.0L169.5 136.7L170.0 138.3L170.5 139.9L171.0 141.4L171.5 142.9L172.0 144.4L172.5 145.8L173.0 147.1L173.5 148.3L174.0 149.5L174.5 150.7L175.0 151.8L175.5 152.9L176.0 153.9L176.5 154.8L177.0 155.7L177.5 156.5L178.0 157.2L178.5 158.0L179.0 158.7L179.5 159.3L180.0 159.9L180.5 160.4L181.0 160.8L181.5 161.3L182.0 161.7L182.5 162.0L183.0 162.4L183.5 162.7L184.0 163.0L184.5 163.2L185.0 163.4L185.5 163.5L186.0 163.7L186.5 163.8L187.0 164.0L187.5 164.1L188.0 164.2L188.5 164.3L189.0 164.4L189.5 164.4L190.0 164.4L190.5 164.4L191.0 164.4L191.5 164.4L192.0 164.4L192.5 164.4L193.0 164.4L193.5 164.4L194.0 164.4L194.5 164.4L195.0 164.4L195.5 164.4L196.0 164.3L196.5 164.2L197.0 164.0L197.5 163.8L198.0 163.6L198.5 163.3L199.0 163.0L199.5 162.7L200.0 162.4L200.5 162.0L201.0 161.6L201.5 161.2L202.0 160.7L202.5 160.1L203.0 159.5L203.5 158.9L204.0 158.2L204.5 157.6L205.0 156.9L205.5 156.2L206.0 155.4L206.5 154.6L207.0 153.8L207.5 152.9L208.0 152.1L208.5 151.2L209.0 150.3L209.5 149.3L210.0 148.4L210.5 147.4L211.0 146.4L211.5 145.3L212.0 144.3L212.5 143.2L213.0 142.1L213.5 141.0L214.0 139.8L214.5 138.6L215.0 137.4L215.5 136.2L216.0 134.9L216.5 133.7L217.0 132.4L217.5 131.1L218.0 129.8L218.5 128.4L219.0 127.0L219.5 125.7L220.0 124.3L220.5 123.0L221.0 121.6L221.5 120.3L222.0 119.0L222.5 117.7L223.0 116.4L223.5 115.1L224.0 113.9L224.5 112.7L225.0 111.6L225.5 110.5L226.0 109.5L226.5 108.5L227.0 107.6L227.5 106.7L228.0 106.0L228.5 105.5L229.0 105.1L229.5 104.7L230.0 104.4L230.5 104.2L231.0 104.1L231.5 104.2L232.0 104.5L232.5 105.0L233.0 105.5L233.5 106.1L234.0 106.9L234.5 107.9L235.0 109.2L235.5 110.4L236.0 111.6L236.5 112.8L237.0 114.0L237.5 115.2L238.0 116.4L238.5 117.6L239.0 118.7L239.5 119.7L240.0 120.6L240.5 121.4L241.0 122.3L241.5 123.5L242.0 125.2L242.5 127.1L243.0 128.5L243.5 129.6L244.0 130.7L244.5 131.9L245.0 133.3L245.5 134.7L246.0 136.3L246.5 137.9L247.0 139.5L247.5 141.3L248.0 143.1L248.5 145.0L249.0 147.0L249.5 149.1L250.0 151.1L250.5 153.2L251.0 155.1L251.5 157.0L252.0 158.8L252.5 160.6L253.0 162.3L253.5 164.0L254.0 165.6L254.5 167.1L255.0 168.6L255.5 169.9L256.0 171.3L256.5 172.6L257.0 173.8L257.5 174.9L258.0 176.0L258.5 177.0L259.0 177.9L259.5 178.8L260.0 179.7L260.5 180.5L261.0 181.2L261.5 181.8L262.0 182.3L262.5 182.9L263.0 183.4L263.5 183.9L264.0 184.2L264.5 184.6L265.0 184.8L265.5 185.0L266.0 185.2L266.5 185.4L267.0 185.6L267.5 185.7L268.0 185.7L268.5 185.7L269.0 185.7L269.5 185.6L270.0 185.6L270.5 185.5L271.0 185.4L271.5 185.3L272.0 185.2L272.5 185.1L273.0 185.0L273.5 184.9L274.0 184.7L274.5 184.5L275.0 184.3L275.5 184.1L276.0 184.0L276.5 183.8L277.0 183.6L277.5 183.5L278.0 183.4L278.5 183.3L279.0 183.1L279.5 183.0L280.0 182.9L280.5 182.8L281.0 182.7L281.5 182.6L282.0 182.5L282.5 182.5L283.0 182.4L283.5 182.4L284.0 182.4L284.5 182.4L285.0 182.4L285.5 182.4L286.0 182.4L286.5 182.4L287.0 182.4L287.5 182.4L288.0 182.4L288.5 182.4L289.0 182.4L289.5 182.4L290.0 182.4L290.5 182.4L291.0 182.4L291.5 182.4L292.0 182.4L292.5 182.4L293.0 182.4L293.5 182.4L294.0 182.4L294.5 182.4L295.0 182.4L295.5 182.4L296.0 182.4L296.5 182.4L297.0 182.4L297.5 182.4L298.0 182.4L298.5 182.4L299.0 182.4L299.5 182.4L300.0 182.4L300.5 182.4L301.0 182.4L301.5 182.4L302.0 182.4L302.5 182.4L303.0 182.4L303.5 182.4L304.0 182.4L304.5 182.4L305.0 182.4L305.5 182.4L306.0 182.4L306.5 182.4L307.0 182.4L307.5 182.4L308.0 182.4L308.5 182.4L309.0 182.4L309.5 182.4L310.0 182.4L310.5 182.4L311.0 182.4L311.5 182.4L312.0 182.4L312.5 182.4L313.0 182.4L313.5 182.4L313.6 182.4" fill="none" stroke="#7a7aff" stroke-width="1.25"/>
<path d="M126.0 38.7L126.5 39.6L127.0 40.6L127.5 41.6L128.0 42.6L128.5 43.7L129.0 44.7L129.5 45.7L130.0 46.7L130.5 47.7L131.0 48.8L131.5 49.8L132.0 50.8L132.5 51.8L133.0 52.8L133.5 53.8L134.0 54.7L134.5 55.7L135.0 56.7L135.5 57.6L136.0 58.6L136.5 59.5L137.0 60.4L137.5 61.3L138.0 62.2L138.5 63.1L139.0 64.0L139.5 64.9L140.0 65.7L140.5 66.5L141.0 67.4L141.5 68.2L142.0 69.0L142.5 69.8L143.0 70.6L143.5 71.3L144.0 72.1L144.5 72.8L145.0 73.6L145.5 74.4L146.0 75.2L146.5 76.1L147.0 77.1L147.5 78.1L148.0 79.1L148.5 80.1L149.0 81.2L149.5 82.2L150.0 83.3L150.5 84.3L151.0 85.3L151.5 86.4L152.0 87.4L152.5 88.5L153.0 89.5L153.5 90.6L154.0 91.6L154.5 92.6L155.0 93.5L155.5 94.4L156.0 95.3L156.5 96.0L157.0 96.7L157.5 97.3L158.0 97.8L158.5 98.5L159.0 99.2L159.5 100.1L160.0 101.1L160.5 102.2L161.0 103.5L161.5 104.8L162.0 106.4L162.5 108.0L163.0 109.6L163.5 111.2L164.0 112.8L164.5 114.2L165.0 115.5L165.5 116.6L166.0 117.5L166.5 118.3L167.0 119.0L167.5 119.7L168.0 120.3L168.5 121.0L169.0 121.7L169.5 122.6L170.0 123.4L170.5 124.3L171.0 125.2L171.5 126.1L172.0 127.1L172.5 128.1L173.0 129.1L173.5 130.2L174.0 131.2L174.5 132.2L175.0 133.3L175.5 134.4L176.0 135.4L176.5 136.5L177.0 137.5L177.5 138.5L178.0 139.6L178.5 140.6L179.0 141.6L179.5 142.5L180.0 143.5L180.5 144.5L181.0 145.4L181.5 146.4L182.0 147.3L182.5 148.2L183.0 149.1L183.5 150.0L184.0 150.9L184.5 151.8L185.0 152.6L185.5 153.5L186.0 154.3L186.5 155.2L187.0 156.0L187.5 156.9L188.0 157.7L188.5 158.4L189.0 159.2L189.5 159.9L190.0 160.5L190.5 161.2L191.0 161.8L191.5 162.3L192.0 162.6L192.5 162.6L193.0 162.5L193.5 162.4L194.0 162.3L194.5 162.2L195.0 162.1L195.5 162.0L196.0 161.7L196.5 161.5L197.0 161.2L197.5 160.9L198.0 160.4L198.5 159.8L199.0 159.0L199.5 158.2L200.0 157.2L200.5 156.2L201.0 155.1L201.5 153.9L202.0 152.7L202.5 151.3L203.0 149.9L203.5 148.4L204.0 146.9L204.5 145.5L205.0 144.0L205.5 142.7L206.0 141.4L206.5 140.3L207.0 139.3L207.5 138.4L208.0 137.7L208.5 137.2L209.0 136.7L209.5 136.4L210.0 136.1L210.5 135.7L211.0 135.4L211.5 135.0L212.0 134.5L212.5 133.8L213.0 133.1L213.5 132.3L214.0 131.4L214.5 130.5L215.0 129.4L215.5 128.3L216.0 127.1L216.5 125.8L217.0 124.4L217.5 122.9L218.0 121.3L218.5 119.7L219.0 118.0L219.5 116.1L220.0 114.2L220.5 112.2L221.0 110.1L221.5 108.0L222.0 105.7L222.5 103.4L223.0 101.2L223.5 98.9L224.0 96.5L224.5 94.3L225.0 92.2L225.5 90.2L226.0 88.5L226.5 86.8L227.0 85.3L227.5 83.9L228.0 82.8L228.5 82.0L229.0 81.3L229.5 80.8L230.0 80.6L230.5 80.6L231.0 81.0L231.5 81.5L232.0 82.2L232.5 83.0L233.0 84.3L233.5 85.9L234.0 87.7L234.5 89.6L235.0 91.8L235.5 94.3L236.0 96.9L236.5 99.4L237.0 101.9L237.5 104.4L238.0 106.9L238.5 109.4L239.0 111.7L239.5 113.7L240.0 115.7L240.5 117.5L241.0 119.2L241.5 120.8L242.0 122.2L242.5 123.4L243.0 124.6L243.5 125.7L244.0 126.8L244.5 127.7L245.0 128.6L245.5 129.4L246.0 130.1L246.5 130.8L247.0 131.4L247.5 132.0L248.0 132.6L248.5 133.1L249.0 133.5L249.0 134.7L248.5 134.3L248.0 133.8L247.5 133.2L247.0 132.6L246.5 132.0L246.0 131.3L245.5 130.6L245.0 129.8L244.5 128.9L244.0 128.0L243.5 126.9L243.0 125.8L242.5 124.6L242.0 123.4L241.5 122.0L241.0 120.4L240.5 118.7L240.0 116.9L239.5 114.9L239.0 112.9L238.5 110.6L238.0 108.1L237.5 105.6L237.0 103.1L236.5 100.6L236.0 98.1L235.5 95.5L235.0 93.0L234.5 90.8L234.0 88.9L233.5 87.1L233.0 85.5L232.5 84.2L232.0 83.4L231.5 82.7L231.0 82.2L230.5 81.8L230.0 81.8L229.5 82.0L229.0 82.5L228.5 83.2L228.0 84.0L227.5 85.1L227.0 86.5L226.5 88.0L226.0 89.7L225.5 91.4L225.0 93.4L224.5 95.5L224.0 97.7L223.5 100.1L223.0 102.4L222.5 104.6L222.0 106.9L221.5 109.2L221.0 111.3L220.5 113.4L220.0 115.4L219.5 117.3L219.0 119.2L218.5 120.9L218.0 122.6L217.5 124.1L217.0 125.6L216.5 127.0L216.0 128.4L215.5 129.6L215.0 130.7L214.5 131.8L214.0 132.9L213.5 133.9L213.0 134.9L212.5 135.8L212.0 136.7L211.5 137.6L211.0 138.5L210.5 139.3L210.0 140.1L209.5 140.9L209.0 141.8L208.5 142.7L208.0 143.6L207.5 144.5L207.0 145.4L206.5 146.3L206.0 147.2L205.5 148.1L205.0 149.1L204.5 150.0L204.0 150.9L203.5 151.9L203.0 152.9L202.5 153.9L202.0 154.9L201.5 155.9L201.0 156.9L200.5 158.0L200.0 159.0L199.5 160.0L199.0 161.2L198.5 162.4L198.0 163.6L197.5 164.7L197.0 165.8L196.5 166.7L196.0 167.6L195.5 168.2L195.0 168.5L194.5 168.4L194.0 168.1L193.5 167.6L193.0 167.1L192.5 166.4L192.0 165.7L191.5 164.8L191.0 163.9L190.5 163.0L190.0 162.1L189.5 161.2L189.0 160.5L188.5 159.7L188.0 158.9L187.5 158.1L187.0 157.2L186.5 156.4L186.0 155.5L185.5 154.7L185.0 153.8L184.5 153.0L184.0 152.1L183.5 151.2L183.0 150.3L182.5 149.4L182.0 148.5L181.5 147.6L181.0 146.6L180.5 145.7L180.0 144.7L179.5 143.7L179.0 142.8L178.5 141.8L178.0 140.8L177.5 139.7L177.0 138.7L176.5 137.7L176.0 136.6L175.5 135.6L175.0 134.5L174.5 133.4L174.0 132.4L173.5 131.4L173.0 130.3L172.5 129.3L172.0 128.3L171.5 127.3L171.0 126.4L170.5 125.5L170.0 124.6L169.5 123.8L169.0 122.9L168.5 122.2L168.0 121.5L167.5 120.9L167.0 120.2L166.5 119.5L166.0 118.7L165.5 117.8L165.0 116.7L164.5 115.4L164.0 114.0L163.5 112.4L163.0 110.8L162.5 109.2L162.0 107.6L161.5 106.0L161.0 104.7L160.5 103.4L160.0 102.3L159.5 101.3L159.0 100.4L158.5 99.7L158.0 99.0L157.5 98.5L157.0 97.9L156.5 97.2L156.0 96.5L155.5 95.6L155.0 94.7L154.5 93.8L154.0 92.8L153.5 91.8L153.0 90.7L152.5 89.7L152.0 88.6L151.5 87.6L151.0 86.5L150.5 85.5L150.0 84.5L149.5 83.4L149.0 82.4L148.5 81.3L148.0 80.3L147.5 79.3L147.0 78.3L146.5 77.3L146.0 76.4L145.5 75.6L145.0 74.8L144.5 74.1L144.0 73.4L143.5 72.7L143.0 72.0L142.5 71.4L142.0 70.8L141.5 70.2L141.0 69.7L140.5 69.3L140.0 68.8L139.5 68.4L139.0 67.9L138.5 67.3L138.0 66.6L137.5 65.7L137.0 64.7L136.5 63.6L136.0 62.4L135.5 61.1L135.0 59.8L134.5 58.4L134.0 57.1L133.5 55.8L133.0 54.6L132.5 53.4L132.0 52.2L131.5 51.1L131.0 50.1L130.5 49.0L130.0 47.9L129.5 46.9L129.0 45.9L128.5 44.9L128.0 43.8L127.5 42.8L127.0 41.8L126.5 40.8L126.0 39.9Z" fill="none" stroke="#ff7a7a" stroke-width="0.8"/>
<path d="M60.5 47.7L61.0 47.5L61.5 47.4L62.0 47.2L62.5 47.0L63.0 46.8L63.5 46.6L64.0 46.4L64.5 46.2L65.0 45.9L65.5 45.7L66.0 45.5L66.5 45.2L67.0 45.0L67.5 44.7L68.0 44.4L68.5 44.1L69.0 43.8L69.5 43.4L70.0 43.1L70.5 42.7L71.0 42.4L71.5 42.0L72.0 41.7L72.5 41.3L73.0 40.9L73.5 40.5L74.0 40.2L74.5 39.8L75.0 39.4L75.5 39.0L76.0 38.6L76.5 38.2L77.0 37.8L77.5 37.4L78.0 36.9L78.5 36.5L79.0 36.1L79.5 35.6L80.0 35.2L80.5 34.8L81.0 34.3L81.5 33.9L82.0 33.5L82.5 33.0L83.0 32.6L83.5 32.2L84.0 31.8L84.5 31.4L85.0 30.9L85.5 30.5L86.0 30.1L86.5 29.6L87.0 29.2L87.5 28.8L88.0 28.3L88.5 27.9L89.0 27.5L89.5 27.1L90.0 26.7L90.5 26.3L91.0 26.0L91.5 25.6L92.0 25.2L92.5 24.9L93.0 24.5L93.5 24.1L94.0 23.8L94.5 23.4L95.0 23.1L95.5 22.7L96.0 22.4L96.5 22.1L97.0 21.8L97.5 21.5L98.0 21.2L98.5 20.9L99.0 20.7L99.5 20.5L100.0 20.3L100.5 20.0L101.0 19.8L101.5 19.6L102.0 19.4L102.5 19.2L103.0 19.0L103.5 18.8L104.0 18.7L104.5 18.6L105.0 18.4L105.5 18.4L106.0 18.3L106.5 18.3L107.0 18.3L107.5 18.3L108.0 18.3L108.5 18.3L109.0 18.3L109.5 18.4L110.0 18.4L110.5 18.4L111.0 18.5L111.5 18.6L112.0 18.7L112.5 18.9L113.0 19.2L113.5 19.4L114.0 19.7L114.5 20.0L115.0 20.4L115.5 20.7L116.0 21.1L116.5 21.6L117.0 22.1L117.5 22.6L118.0 23.2L118.5 23.8L119.0 24.4L119.5 25.0L120.0 25.8L120.5 26.5L121.0 27.4L121.5 28.2L122.0 29.1L122.5 30.1L123.0 31.1L123.5 32.1L124.0 33.2L124.5 34.4L125.0 35.6L125.5 36.9L126.0 38.2" fill="none" stroke="#ff7a7a" stroke-width="1.25"/>
<path d="M60.5 137.8L61.0 137.4L61.5 137.0L62.0 136.6L62.5 136.2L63.0 135.8L63.5 135.4L64.0 135.0L64.5 134.6L65.0 134.2L65.5 133.8L66.0 133.3L66.5 132.9L67.0 132.5L67.5 132.0L68.0 131.6L68.5 131.1L69.0 130.7L69.5 130.2L70.0 129.8L70.5 129.3L71.0 128.8L71.5 128.4L72.0 127.9L72.5 127.4L73.0 126.9L73.5 126.4L74.0 125.9L74.5 125.4L75.0 124.9L75.5 124.4L76.0 123.8L76.5 123.3L77.0 122.7L77.5 122.2L78.0 121.6L78.5 121.1L79.0 120.5L79.5 119.9L80.0 119.3L80.5 118.7L81.0 118.1L81.5 117.5L82.0 116.9L82.5 116.3L83.0 115.7L83.5 115.0L84.0 114.4L84.5 113.7L85.0 113.0L85.5 112.4L86.0 111.7L86.5 111.0L87.0 110.3L87.5 109.6L88.0 108.8L88.5 108.1L89.0 107.4L89.5 106.6L90.0 105.9L90.5 105.1L91.0 104.3L91.5 103.5L92.0 102.8L92.5 101.9L93.0 101.1L93.5 100.3L94.0 99.5L94.5 98.6L95.0 97.7L95.5 96.9L96.0 96.0L96.5 95.1L97.0 94.2L97.5 93.3L98.0 92.3L98.5 91.4L99.0 90.4L99.5 89.5L100.0 88.5L100.5 87.5L101.0 86.5L101.5 85.5L102.0 84.4L102.5 83.4L103.0 82.4L103.5 81.3L104.0 80.2L104.5 79.2L105.0 78.1L105.5 76.9L106.0 75.8L106.5 74.7L107.0 73.5L107.5 72.3L108.0 71.2L108.5 70.0L109.0 68.8L109.5 67.6L110.0 66.4L110.5 65.2L111.0 64.0L111.5 62.8L112.0 61.6L112.5 60.4L113.0 59.2L113.5 58.0L114.0 56.8L114.5 55.6L115.0 54.4L115.5 53.3L116.0 52.1L116.5 50.9L117.0 49.8L117.5 48.6L118.0 47.5L118.5 46.5L119.0 45.4L119.5 44.3L120.0 43.3L120.5 42.3L121.0 41.5L121.5 40.8L122.0 40.2L122.5 39.6L123.0 39.1L123.5 38.8L124.0 38.6L124.5 38.6L125.0 38.8L125.5 39.2L126.0 39.7" fill="none" stroke="#ff7a7a" stroke-width="1.25"/>
<path d="M249.0 133.7L249.5 132.7L250.0 131.7L250.5 130.7L251.0 129.7L251.5 128.8L252.0 127.8L252.5 126.9L253.0 125.9L253.5 125.0L254.0 124.1L254.5 123.1L255.0 122.2L255.5 121.3L256.0 120.5L256.5 119.6L257.0 118.7L257.5 117.9L258.0 117.0L258.5 116.2L259.0 115.4L259.5 114.6L260.0 113.7L260.5 112.9L261.0 112.2L261.5 111.4L262.0 110.6L262.5 109.8L263.0 109.1L263.5 108.3L264.0 107.6L264.5 106.9L265.0 106.1L265.5 105.4L266.0 104.7L266.5 104.0L267.0 103.3L267.5 102.7L268.0 102.0L268.5 101.3L269.0 100.7L269.5 100.0L270.0 99.4L270.5 98.7L271.0 98.1L271.5 97.5L272.0 96.9L272.5 96.3L273.0 95.7L273.5 95.1L274.0 94.5L274.5 94.0L275.0 93.4L275.5 92.8L276.0 92.3L276.5 91.7L277.0 91.2L277.5 90.7L278.0 90.2L278.5 89.6L279.0 89.1L279.5 88.6L280.0 88.1L280.5 87.6L281.0 87.2L281.5 86.7L282.0 86.2L282.5 85.8L283.0 85.3L283.5 84.9L284.0 84.4L284.5 84.0L285.0 83.5L285.5 83.1L286.0 82.7L286.5 82.3L287.0 81.9L287.5 81.5L288.0 81.1L288.5 80.7L289.0 80.3L289.5 79.9L290.0 79.6L290.5 79.2L291.0 78.8L291.5 78.5L292.0 78.1L292.5 77.8L293.0 77.4L293.5 77.1L294.0 76.8L294.5 76.5L295.0 76.1L295.5 75.8L296.0 75.5L296.5 75.2L297.0 74.9L297.5 74.6L298.0 74.3L298.5 74.0L299.0 73.7L299.5 73.5L300.0 73.2L300.5 72.9L301.0 72.7L301.5 72.4L302.0 72.1L302.5 71.9L303.0 71.6L303.5 71.4L304.0 71.2L304.5 70.9L305.0 70.7L305.5 70.5L306.0 70.3L306.5 70.0L307.0 69.8L307.5 69.6L308.0 69.4L308.5 69.2L309.0 69.0L309.5 68.8L310.0 68.6L310.5 68.4L311.0 68.2L311.5 68.0L312.0 67.8L312.5 67.6L313.0 67.5L313.5 67.3L313.6 67.3" fill="none" stroke="#ff7a7a" stroke-width="1.25"/>
<path d="M249.0 134.9L249.5 136.3L250.0 137.6L250.5 138.9L251.0 140.2L251.5 141.3L252.0 142.5L252.5 143.6L253.0 144.7L253.5 145.7L254.0 146.8L254.5 147.7L255.0 148.6L255.5 149.5L256.0 150.4L256.5 151.2L257.0 152.0L257.5 152.8L258.0 153.5L258.5 154.3L259.0 154.9L259.5 155.6L260.0 156.2L260.5 156.8L261.0 157.3L261.5 157.9L262.0 158.4L262.5 158.9L263.0 159.3L263.5 159.7L264.0 160.2L264.5 160.5L265.0 160.9L265.5 161.3L266.0 161.6L266.5 161.9L267.0 162.2L267.5 162.5L268.0 162.7L268.5 163.0L269.0 163.2L269.5 163.4L270.0 163.6L270.5 163.8L271.0 163.9L271.5 164.1L272.0 164.2L272.5 164.3L273.0 164.4L273.5 164.5L274.0 164.6L274.5 164.7L275.0 164.7L275.5 164.8L276.0 164.9L276.5 164.9L277.0 165.0L277.5 165.0L278.0 165.0L278.5 165.1L279.0 165.1L279.5 165.1L280.0 165.0L280.5 165.0L281.0 165.0L281.5 165.0L282.0 164.9L282.5 164.9L283.0 164.8L283.5 164.8L284.0 164.7L284.5 164.7L285.0 164.6L285.5 164.5L286.0 164.5L286.5 164.4L287.0 164.3L287.5 164.2L288.0 164.1L288.5 164.0L289.0 163.9L289.5 163.7L290.0 163.6L290.5 163.5L291.0 163.4L291.5 163.3L292.0 163.2L292.5 163.0L293.0 162.9L293.5 162.8L294.0 162.6L294.5 162.5L295.0 162.4L295.5 162.2L296.0 162.1L296.5 161.9L297.0 161.8L297.5 161.7L298.0 161.5L298.5 161.4L299.0 161.3L299.5 161.1L300.0 161.0L300.5 160.9L301.0 160.7L301.5 160.6L302.0 160.5L302.5 160.4L303.0 160.2L303.5 160.1L304.0 160.0L304.5 159.9L305.0 159.7L305.5 159.6L306.0 159.5L306.5 159.4L307.0 159.3L307.5 159.2L308.0 159.1L308.5 159.0L309.0 159.0L309.5 158.9L310.0 158.8L310.5 158.8L311.0 158.7L311.5 158.6L312.0 158.6L312.5 158.5L313.0 158.5L313.5 158.5L313.6 158.5" fill="none" stroke="#ff7a7a" stroke-width="1.25"/>
<path d="M60.5 106.1H313.6" stroke="#000" stroke-width="1.5" stroke-dasharray="1.15 1.32"/>
<path d="M60.5 106.0L61.0 106.0L61.5 106.0L62.0 106.0L62.5 106.0L63.0 106.0L63.5 106.0L64.0 106.0L64.5 106.0L65.0 106.0L65.5 106.0L66.0 106.0L66.5 106.0L67.0 106.0L67.5 106.0L68.0 106.0L68.5 106.0L69.0 106.0L69.5 106.0L70.0 106.0L70.5 106.0L71.0 106.0L71.5 106.0L72.0 106.0L72.5 106.0L73.0 106.0L73.5 106.0L74.0 106.0L74.5 106.0L75.0 106.0L75.5 106.0L76.0 106.0L76.5 106.0L77.0 106.0L77.5 106.0L78.0 106.0L78.5 106.0L79.0 106.0L79.5 106.0L80.0 106.0L80.5 106.0L81.0 106.0L81.5 106.0L82.0 106.0L82.5 106.0L83.0 106.0L83.5 106.0L84.0 106.0L84.5 106.0L85.0 106.0L85.5 106.0L86.0 106.0L86.5 106.0L87.0 106.0L87.5 106.0L88.0 106.0L88.5 106.0L89.0 106.0L89.5 105.9L90.0 105.9L90.5 105.9L91.0 105.8L91.5 105.8L92.0 105.7L92.5 105.7L93.0 105.6L93.5 105.5L94.0 105.4L94.5 105.3L95.0 105.3L95.5 105.2L96.0 105.1L96.5 105.0L97.0 104.9L97.5 104.8L98.0 104.7L98.5 104.5L99.0 104.3L99.5 104.2L100.0 104.0L100.5 103.8L101.0 103.6L101.5 103.4L102.0 103.2L102.5 102.9L103.0 102.7L103.5 102.5L104.0 102.2L104.5 102.0L105.0 101.7L105.5 101.4L106.0 101.1L106.5 100.7L107.0 100.4L107.5 100.1L108.0 99.7L108.5 99.3L109.0 99.0L109.5 98.6L110.0 98.2L110.5 97.8L111.0 97.3L111.5 96.9L112.0 96.4L112.5 96.0L113.0 95.5L113.5 95.0L114.0 94.4L114.5 93.9L115.0 93.4L115.5 92.9L116.0 92.4L116.5 91.9L117.0 91.3L117.5 90.8L118.0 90.3L118.5 89.7L119.0 89.1L119.5 88.6L120.0 88.0L120.5 87.5L121.0 86.9L121.5 86.3L122.0 85.8L122.5 85.2L123.0 84.7L123.5 84.2L124.0 83.7L124.5 83.1L125.0 82.6L125.5 82.1L126.0 81.5L126.5 81.0L127.0 80.5L127.5 80.0L128.0 79.5L128.5 79.1L129.0 78.7L129.5 78.3L130.0 77.9L130.5 77.5L131.0 77.2L131.5 76.8L132.0 76.4L132.5 76.1L133.0 75.7L133.5 75.4L134.0 75.1L134.5 74.8L135.0 74.5L135.5 74.3L136.0 74.0L136.5 73.8L137.0 73.7L137.5 73.6L138.0 73.5L138.5 73.4L139.0 73.4L139.5 73.3L140.0 73.3L140.5 73.3L141.0 73.3L141.5 73.3L142.0 73.4L142.5 73.5L143.0 73.7L143.5 73.9L144.0 74.1L144.5 74.3L145.0 74.5L145.5 74.8L146.0 75.2L146.5 75.6L147.0 76.0L147.5 76.4L148.0 76.9L148.5 77.4L149.0 77.9L149.5 78.5L150.0 79.1L150.5 79.8L151.0 80.6L151.5 81.3L152.0 82.1L152.5 82.9L153.0 83.8L153.5 84.7L154.0 85.7L154.5 86.7L155.0 87.8L155.5 88.9L156.0 90.1L156.5 91.2L157.0 92.5L157.5 93.8L158.0 95.1L158.5 96.5L159.0 97.8L159.5 99.2L160.0 100.6L160.5 102.0L161.0 103.4L161.5 104.8L162.0 106.2L162.5 107.5L163.0 108.9L163.5 110.2L164.0 111.5L164.5 112.8L165.0 114.1L165.5 115.3L166.0 116.6L166.5 117.8L167.0 118.9L167.5 120.1L168.0 121.3L168.5 122.4L169.0 123.5L169.5 124.6L170.0 125.6L170.5 126.6L171.0 127.5L171.5 128.5L172.0 129.4L172.5 130.2L173.0 131.0L173.5 131.8L174.0 132.5L174.5 133.1L175.0 133.8L175.5 134.3L176.0 134.8L176.5 135.3L177.0 135.7L177.5 136.0L178.0 136.3L178.5 136.5L179.0 136.7L179.5 136.9L180.0 137.1L180.5 137.1L181.0 137.2L181.5 137.3L182.0 137.3L182.5 137.4L183.0 137.4L183.5 137.4L184.0 137.4L184.5 137.3L185.0 137.3L185.5 137.3L186.0 137.3L186.5 137.3L187.0 137.3L187.5 137.3L188.0 137.2L188.5 137.2L189.0 137.2L189.5 137.2L190.0 137.2L190.5 137.2L191.0 137.2L191.5 137.2L192.0 137.2L192.5 137.2L193.0 137.3L193.5 137.3L194.0 137.4L194.5 137.5L195.0 137.6L195.5 137.7L196.0 137.8L196.5 137.9L197.0 138.0L197.5 138.1L198.0 138.1L198.5 138.2L199.0 138.2L199.5 138.2L200.0 138.2L200.5 138.2L201.0 138.2L201.5 138.2L202.0 138.2L202.5 138.1L203.0 138.1L203.5 138.1L204.0 138.1L204.5 138.0L205.0 137.8L205.5 137.6L206.0 137.4L206.5 137.1L207.0 136.8L207.5 136.5L208.0 136.2L208.5 135.8L209.0 135.4L209.5 134.9L210.0 134.4L210.5 133.8L211.0 133.2L211.5 132.6L212.0 131.8L212.5 131.1L213.0 130.2L213.5 129.3L214.0 128.3L214.5 127.4L215.0 126.3L215.5 125.1L216.0 123.9L216.5 122.6L217.0 121.2L217.5 119.9L218.0 118.4L218.5 116.9L219.0 115.4L219.5 113.8L220.0 112.3L220.5 110.6L221.0 109.0L221.5 107.3L222.0 105.8L222.5 104.4L223.0 103.1L223.5 101.8L224.0 100.6L224.5 99.5L225.0 98.4L225.5 97.5L226.0 96.7L226.5 96.1L227.0 95.4L227.5 94.8L228.0 94.4L228.5 94.1L229.0 93.9L229.5 93.8L230.0 93.8L230.5 93.8L231.0 93.9L231.5 94.2L232.0 94.6L232.5 95.1L233.0 95.6L233.5 96.4L234.0 97.2L234.5 98.2L235.0 99.3L235.5 100.4L236.0 101.7L236.5 103.2L237.0 104.7L237.5 106.2L238.0 107.7L238.5 109.1L239.0 110.4L239.5 111.8L240.0 113.1L240.5 114.4L241.0 115.6L241.5 116.8L242.0 117.8L242.5 118.9L243.0 119.9L243.5 120.8L244.0 121.7L244.5 122.5L245.0 123.3L245.5 123.9L246.0 124.6L246.5 125.2L247.0 125.8L247.5 126.3L248.0 126.8L248.5 127.1L249.0 127.4L249.5 127.7L250.0 128.0L250.5 128.2L251.0 128.3L251.5 128.3L252.0 128.3L252.5 128.3L253.0 128.2L253.5 128.1L254.0 128.0L254.5 127.8L255.0 127.6L255.5 127.3L256.0 126.9L256.5 126.5L257.0 126.1L257.5 125.7L258.0 125.2L258.5 124.7L259.0 124.2L259.5 123.6L260.0 123.0L260.5 122.4L261.0 121.8L261.5 121.2L262.0 120.5L262.5 119.9L263.0 119.2L263.5 118.5L264.0 117.7L264.5 117.0L265.0 116.4L265.5 115.7L266.0 115.1L266.5 114.4L267.0 113.8L267.5 113.1L268.0 112.5L268.5 111.9L269.0 111.3L269.5 110.8L270.0 110.4L270.5 110.0L271.0 109.7L271.5 109.4L272.0 109.1L272.5 108.8L273.0 108.6L273.5 108.3L274.0 108.1L274.5 107.9L275.0 107.8L275.5 107.6L276.0 107.5L276.5 107.4L277.0 107.2L277.5 107.1L278.0 107.0L278.5 106.9L279.0 106.8L279.5 106.7L280.0 106.7L280.5 106.6L281.0 106.5L281.5 106.5L282.0 106.4L282.5 106.4L283.0 106.3L283.5 106.3L284.0 106.3L284.5 106.2L285.0 106.2L285.5 106.2L286.0 106.1L286.5 106.1L287.0 106.1L287.5 106.1L288.0 106.1L288.5 106.1L289.0 106.1L289.5 106.1L290.0 106.1L290.5 106.0L291.0 106.0L291.5 106.0L292.0 106.0L292.5 106.0L293.0 106.0L293.5 106.0L294.0 106.0L294.5 106.0L295.0 106.0L295.5 106.0L296.0 106.0L296.5 106.0L297.0 106.0L297.5 106.0L298.0 106.0L298.5 106.0L299.0 106.0L299.5 106.0L300.0 106.0L300.5 106.0L301.0 106.0L301.5 106.0L302.0 106.0L302.5 106.0L303.0 106.0L303.5 106.0L304.0 106.0L304.5 106.0L305.0 106.0L305.5 106.0L306.0 106.0L306.5 106.0L307.0 106.0L307.5 106.0L308.0 106.0L308.5 106.0L309.0 106.0L309.5 106.0L310.0 106.0L310.5 106.0L311.0 106.0L311.5 106.0L312.0 106.0L312.5 106.0L313.0 106.0L313.5 106.0L313.6 106.0" fill="none" stroke="#0000ff" stroke-width="1.3" stroke-linejoin="round"/>
<path d="M60.5 92.6L61.0 92.4L61.5 92.1L62.0 91.8L62.5 91.6L63.0 91.3L63.5 91.0L64.0 90.7L64.5 90.4L65.0 90.1L65.5 89.8L66.0 89.5L66.5 89.1L67.0 88.8L67.5 88.4L68.0 88.1L68.5 87.7L69.0 87.3L69.5 86.9L70.0 86.5L70.5 86.1L71.0 85.7L71.5 85.3L72.0 84.9L72.5 84.5L73.0 84.0L73.5 83.6L74.0 83.2L74.5 82.8L75.0 82.4L75.5 82.0L76.0 81.6L76.5 81.2L77.0 80.8L77.5 80.3L78.0 79.9L78.5 79.5L79.0 79.1L79.5 78.7L80.0 78.3L80.5 77.8L81.0 77.4L81.5 77.0L82.0 76.5L82.5 76.1L83.0 75.6L83.5 75.1L84.0 74.7L84.5 74.2L85.0 73.7L85.5 73.2L86.0 72.7L86.5 72.3L87.0 71.8L87.5 71.2L88.0 70.7L88.5 70.2L89.0 69.7L89.5 69.2L90.0 68.6L90.5 68.1L91.0 67.5L91.5 66.9L92.0 66.4L92.5 65.8L93.0 65.1L93.5 64.5L94.0 63.9L94.5 63.2L95.0 62.6L95.5 61.9L96.0 61.2L96.5 60.6L97.0 59.9L97.5 59.2L98.0 58.5L98.5 57.9L99.0 57.2L99.5 56.5L100.0 55.9L100.5 55.2L101.0 54.5L101.5 53.9L102.0 53.2L102.5 52.5L103.0 51.8L103.5 51.1L104.0 50.5L104.5 49.8L105.0 49.1L105.5 48.4L106.0 47.8L106.5 47.1L107.0 46.5L107.5 45.9L108.0 45.3L108.5 44.7L109.0 44.1L109.5 43.5L110.0 42.9L110.5 42.3L111.0 41.8L111.5 41.2L112.0 40.7L112.5 40.2L113.0 39.7L113.5 39.2L114.0 38.8L114.5 38.3L115.0 37.9L115.5 37.4L116.0 37.0L116.5 36.6L117.0 36.3L117.5 36.0L118.0 35.7L118.5 35.5L119.0 35.2L119.5 35.0L120.0 34.8L120.5 34.7L121.0 34.7L121.5 34.8L122.0 34.9L122.5 35.2L123.0 35.4L123.5 35.8L124.0 36.2L124.5 36.9L125.0 37.7L125.5 38.5L126.0 39.3L126.5 40.2L127.0 41.2L127.5 42.2L128.0 43.2L128.5 44.3L129.0 45.3L129.5 46.3L130.0 47.3L130.5 48.3L131.0 49.4L131.5 50.4L132.0 51.4L132.5 52.4L133.0 53.4L133.5 54.4L134.0 55.3L134.5 56.3L135.0 57.3L135.5 58.2L136.0 59.2L136.5 60.1L137.0 61.0L137.5 61.9L138.0 62.8L138.5 63.7L139.0 64.6L139.5 65.5L140.0 66.3L140.5 67.1L141.0 68.0L141.5 68.8L142.0 69.6L142.5 70.4L143.0 71.2L143.5 71.9L144.0 72.7L144.5 73.4L145.0 74.2L145.5 75.0L146.0 75.8L146.5 76.7L147.0 77.7L147.5 78.7L148.0 79.7L148.5 80.7L149.0 81.8L149.5 82.8L150.0 83.9L150.5 84.9L151.0 85.9L151.5 87.0L152.0 88.0L152.5 89.1L153.0 90.1L153.5 91.2L154.0 92.2L154.5 93.2L155.0 94.1L155.5 95.0L156.0 95.9L156.5 96.6L157.0 97.3L157.5 97.9L158.0 98.4L158.5 99.1L159.0 99.8L159.5 100.7L160.0 101.7L160.5 102.8L161.0 104.1L161.5 105.4L162.0 107.0L162.5 108.6L163.0 110.2L163.5 111.8L164.0 113.4L164.5 114.8L165.0 116.1L165.5 117.2L166.0 118.1L166.5 118.9L167.0 119.6L167.5 120.3L168.0 120.9L168.5 121.6L169.0 122.3L169.5 123.2L170.0 124.0L170.5 124.9L171.0 125.8L171.5 126.7L172.0 127.7L172.5 128.7L173.0 129.7L173.5 130.8L174.0 131.8L174.5 132.8L175.0 133.9L175.5 135.0L176.0 136.0L176.5 137.1L177.0 138.1L177.5 139.1L178.0 140.2L178.5 141.2L179.0 142.2L179.5 143.1L180.0 144.1L180.5 145.1L181.0 146.0L181.5 147.0L182.0 147.9L182.5 148.8L183.0 149.7L183.5 150.6L184.0 151.5L184.5 152.4L185.0 153.2L185.5 154.1L186.0 154.9L186.5 155.8L187.0 156.6L187.5 157.5L188.0 158.3L188.5 159.1L189.0 159.8L189.5 160.5L190.0 161.3L190.5 162.1L191.0 162.8L191.5 163.5L192.0 164.1L192.5 164.5L193.0 164.8L193.5 165.0L194.0 165.2L194.5 165.3L195.0 165.3L195.5 165.1L196.0 164.6L196.5 164.1L197.0 163.5L197.5 162.8L198.0 162.0L198.5 161.1L199.0 160.2L199.5 159.2L200.0 158.2L200.5 157.2L201.0 156.3L201.5 155.3L202.0 154.2L202.5 153.2L203.0 152.2L203.5 151.2L204.0 150.2L204.5 149.2L205.0 148.2L205.5 147.3L206.0 146.3L206.5 145.4L207.0 144.5L207.5 143.6L208.0 142.7L208.5 141.8L209.0 140.9L209.5 140.1L210.0 139.3L210.5 138.5L211.0 137.7L211.5 136.9L212.0 136.0L212.5 135.1L213.0 134.2L213.5 133.2L214.0 132.2L214.5 131.2L215.0 130.1L215.5 129.0L216.0 127.7L216.5 126.4L217.0 125.0L217.5 123.5L218.0 122.0L218.5 120.3L219.0 118.6L219.5 116.7L220.0 114.8L220.5 112.8L221.0 110.7L221.5 108.6L222.0 106.3L222.5 104.0L223.0 101.8L223.5 99.5L224.0 97.1L224.5 94.9L225.0 92.8L225.5 90.8L226.0 89.1L226.5 87.4L227.0 85.9L227.5 84.5L228.0 83.4L228.5 82.6L229.0 81.9L229.5 81.4L230.0 81.2L230.5 81.2L231.0 81.6L231.5 82.1L232.0 82.8L232.5 83.6L233.0 84.9L233.5 86.5L234.0 88.3L234.5 90.2L235.0 92.4L235.5 94.9L236.0 97.5L236.5 100.0L237.0 102.5L237.5 105.0L238.0 107.5L238.5 110.0L239.0 112.3L239.5 114.3L240.0 116.3L240.5 118.1L241.0 119.8L241.5 121.4L242.0 122.8L242.5 124.0L243.0 125.2L243.5 126.3L244.0 127.4L244.5 128.3L245.0 129.2L245.5 130.0L246.0 130.7L246.5 131.4L247.0 132.0L247.5 132.6L248.0 133.2L248.5 133.7L249.0 134.1L249.5 134.5L250.0 134.8L250.5 135.1L251.0 135.4L251.5 135.7L252.0 135.9L252.5 136.2L253.0 136.4L253.5 136.5L254.0 136.6L254.5 136.7L255.0 136.7L255.5 136.7L256.0 136.8L256.5 136.8L257.0 136.8L257.5 136.8L258.0 136.8L258.5 136.8L259.0 136.8L259.5 136.8L260.0 136.7L260.5 136.6L261.0 136.5L261.5 136.4L262.0 136.3L262.5 136.1L263.0 135.9L263.5 135.8L264.0 135.6L264.5 135.5L265.0 135.3L265.5 135.1L266.0 134.9L266.5 134.7L267.0 134.5L267.5 134.3L268.0 134.1L268.5 133.9L269.0 133.6L269.5 133.4L270.0 133.2L270.5 132.9L271.0 132.7L271.5 132.4L272.0 132.2L272.5 131.9L273.0 131.6L273.5 131.3L274.0 131.1L274.5 130.8L275.0 130.5L275.5 130.2L276.0 129.9L276.5 129.7L277.0 129.4L277.5 129.1L278.0 128.8L278.5 128.5L279.0 128.2L279.5 127.9L280.0 127.6L280.5 127.3L281.0 127.0L281.5 126.7L282.0 126.4L282.5 126.1L283.0 125.8L283.5 125.5L284.0 125.2L284.5 124.9L285.0 124.6L285.5 124.3L286.0 124.0L286.5 123.7L287.0 123.4L287.5 123.1L288.0 122.8L288.5 122.6L289.0 122.3L289.5 122.0L290.0 121.7L290.5 121.5L291.0 121.2L291.5 121.0L292.0 120.7L292.5 120.4L293.0 120.2L293.5 119.9L294.0 119.7L294.5 119.5L295.0 119.2L295.5 119.0L296.0 118.8L296.5 118.5L297.0 118.3L297.5 118.1L298.0 117.9L298.5 117.7L299.0 117.5L299.5 117.3L300.0 117.1L300.5 116.9L301.0 116.7L301.5 116.5L302.0 116.3L302.5 116.1L303.0 115.9L303.5 115.7L304.0 115.6L304.5 115.4L305.0 115.2L305.5 115.1L306.0 114.9L306.5 114.7L307.0 114.6L307.5 114.4L308.0 114.3L308.5 114.1L309.0 113.9L309.5 113.8L310.0 113.7L310.5 113.5L311.0 113.4L311.5 113.2L312.0 113.1L312.5 113.0L313.0 112.8L313.5 112.7" fill="none" stroke="#ff0000" stroke-width="1.6" stroke-linejoin="round"/>
</g>
<g clip-path="url(#c1)">
<path d="M60.5 308.0H313.6" stroke="#000" stroke-width="1.5" stroke-dasharray="1.15 1.32"/>
<path d="M60.5 308.1L60.8 308.1L61.0 308.1L61.2 308.1L61.5 308.1L61.8 308.1L62.0 308.1L62.2 308.1L62.5 308.1L62.8 308.1L63.0 308.1L63.2 308.1L63.5 308.1L63.8 308.1L64.0 308.1L64.2 308.1L64.5 308.1L64.8 308.1L65.0 308.1L65.2 308.1L65.5 308.1L65.8 308.1L66.0 308.1L66.2 308.1L66.5 308.1L66.8 308.1L67.0 308.1L67.2 308.1L67.5 308.1L67.8 308.1L68.0 308.1L68.2 308.1L68.5 308.1L68.8 308.1L69.0 308.1L69.2 308.1L69.5 308.1L69.8 308.1L70.0 308.1L70.2 308.1L70.5 308.1L70.8 308.1L71.0 308.1L71.2 308.1L71.5 308.1L71.8 308.1L72.0 308.1L72.2 308.1L72.5 308.1L72.8 308.1L73.0 308.1L73.2 308.1L73.5 308.1L73.8 308.1L74.0 308.1L74.2 308.1L74.5 308.1L74.8 308.1L75.0 308.1L75.2 308.1L75.5 308.1L75.8 308.1L76.0 308.1L76.2 308.1L76.5 308.1L76.8 308.1L77.0 308.1L77.2 308.1L77.5 308.1L77.8 308.1L78.0 308.1L78.2 308.1L78.5 308.1L78.8 308.1L79.0 308.1L79.2 308.1L79.5 308.1L79.8 308.1L80.0 308.1L80.2 308.1L80.5 308.1L80.8 308.1L81.0 308.1L81.2 308.1L81.5 308.1L81.8 308.1L82.0 308.1L82.2 308.1L82.5 308.1L82.8 308.1L83.0 308.1L83.2 308.1L83.5 308.1L83.8 308.1L84.0 308.1L84.2 308.1L84.5 308.1L84.8 308.1L85.0 308.0L85.2 308.0L85.5 308.0L85.8 308.0L86.0 308.0L86.2 308.0L86.5 308.0L86.8 308.0L87.0 307.9L87.2 307.9L87.5 307.9L87.8 307.9L88.0 307.8L88.2 307.8L88.5 307.8L88.8 307.8L89.0 307.7L89.2 307.7L89.5 307.7L89.8 307.6L90.0 307.6L90.2 307.6L90.5 307.5L90.8 307.5L91.0 307.5L91.2 307.4L91.5 307.3L91.8 307.3L92.0 307.2L92.2 307.1L92.5 307.0L92.8 306.9L93.0 306.8L93.2 306.7L93.5 306.6L93.8 306.5L94.0 306.4L94.2 306.3L94.5 306.1L94.8 306.0L95.0 305.9L95.2 305.8L95.5 305.7L95.8 305.5L96.0 305.4L96.2 305.3L96.5 305.1L96.8 304.9L97.0 304.8L97.2 304.6L97.5 304.4L97.8 304.3L98.0 304.1L98.2 303.9L98.5 303.7L98.8 303.5L99.0 303.3L99.2 303.1L99.5 302.9L99.8 302.6L100.0 302.4L100.2 302.2L100.5 302.0L100.8 301.8L101.0 301.5L101.2 301.3L101.5 301.0L101.8 300.8L102.0 300.5L102.2 300.2L102.5 299.9L102.8 299.6L103.0 299.3L103.2 299.0L103.5 298.7L103.8 298.4L104.0 298.1L104.2 297.8L104.5 297.4L104.8 297.1L105.0 296.7L105.2 296.4L105.5 296.0L105.8 295.7L106.0 295.3L106.2 294.9L106.5 294.5L106.8 294.1L107.0 293.7L107.2 293.3L107.5 292.8L107.8 292.4L108.0 291.9L108.2 291.5L108.5 291.0L108.8 290.6L109.0 290.1L109.2 289.6L109.5 289.1L109.8 288.5L110.0 288.0L110.2 287.5L110.5 286.9L110.8 286.3L111.0 285.7L111.2 285.1L111.5 284.5L111.8 283.9L112.0 283.2L112.2 282.6L112.5 281.9L112.8 281.2L113.0 280.5L113.2 279.8L113.5 279.0L113.8 278.3L114.0 277.5L114.2 276.7L114.5 275.9L114.8 275.1L115.0 274.2L115.2 273.4L115.5 272.6L115.8 271.7L116.0 270.8L116.2 269.9L116.5 269.0L116.8 268.0L117.0 267.1L117.2 266.1L117.5 265.1L117.8 264.0L118.0 263.0L118.2 262.0L118.5 261.0L118.8 260.0L119.0 259.0L119.2 258.0L119.5 256.9L119.8 255.9L120.0 254.9L120.2 253.9L120.5 252.9L120.8 251.9L121.0 250.9L121.2 249.9L121.5 249.0L121.8 248.0L122.0 247.1L122.2 246.2L122.5 245.3L122.8 244.4L123.0 243.5L123.2 242.6L123.5 241.8L123.8 241.0L124.0 240.2L124.2 239.4L124.5 238.7L124.8 237.9L125.0 237.2L125.2 236.5L125.5 235.8L125.8 235.1L126.0 234.5L126.2 233.9L126.5 233.3L126.8 232.7L127.0 232.2L127.2 231.6L127.5 231.1L127.8 230.6L128.0 230.2L128.2 229.7L128.5 229.3L128.8 228.9L129.0 228.5L129.2 228.1L129.5 227.8L129.8 227.4L130.0 227.1L130.2 226.8L130.5 226.5L130.8 226.2L131.0 225.9L131.2 225.7L131.5 225.4L131.8 225.2L132.0 224.9L132.2 224.7L132.5 224.5L132.8 224.3L133.0 224.1L133.2 223.9L133.5 223.7L133.8 223.6L134.0 223.4L134.2 223.2L134.5 223.1L134.8 222.9L135.0 222.8L135.2 222.7L135.5 222.5L135.8 222.4L136.0 222.2L136.2 222.1L136.5 222.0L136.8 221.8L137.0 221.7L137.2 221.6L137.5 221.4L137.8 221.3L138.0 221.2L138.2 221.1L138.5 220.9L138.8 220.8L139.0 220.7L139.2 220.6L139.5 220.5L139.8 220.4L140.0 220.4L140.2 220.3L140.5 220.2L140.8 220.2L141.0 220.1L141.2 220.1L141.5 220.0L141.8 220.0L142.0 219.9L142.2 219.9L142.5 219.8L142.8 219.8L143.0 219.7L143.2 219.7L143.5 219.7L143.8 219.7L144.0 219.6L144.2 219.6L144.5 219.6L144.8 219.6L145.0 219.6L145.2 219.7L145.5 219.7L145.8 219.8L146.0 219.8L146.2 219.9L146.5 220.0L146.8 220.1L147.0 220.2L147.2 220.3L147.5 220.4L147.8 220.5L148.0 220.6L148.2 220.7L148.5 220.8L148.8 220.9L149.0 221.1L149.2 221.3L149.5 221.5L149.8 221.7L150.0 221.9L150.2 222.1L150.5 222.3L150.8 222.6L151.0 222.8L151.2 223.1L151.5 223.3L151.8 223.6L152.0 224.0L152.2 224.3L152.5 224.7L152.8 225.1L153.0 225.5L153.2 225.9L153.5 226.4L153.8 226.9L154.0 227.5L154.2 228.1L154.5 228.8L154.8 229.6L155.0 230.4L155.2 231.3L155.5 232.2L155.8 233.2L156.0 234.3L156.2 235.4L156.5 236.7L156.8 238.1L157.0 239.5L157.2 241.1L157.5 242.7L157.8 244.4L158.0 246.3L158.2 248.3L158.5 250.4L158.8 252.6L159.0 254.9L159.2 257.3L159.5 259.9L159.8 262.6L160.0 265.6L160.2 268.7L160.5 272.0L160.8 275.4L161.0 278.8L161.2 282.5L161.5 286.4L161.8 290.4L162.0 294.7L162.2 298.9L162.5 303.3L162.8 307.5L163.0 311.7L163.2 315.8L163.5 319.7L163.8 323.4L164.0 327.0L164.2 330.6L164.5 334.1L164.8 337.6L165.0 341.0L165.2 344.2L165.5 347.2L165.8 350.0L166.0 352.6L166.2 355.0L166.5 357.3L166.8 359.5L167.0 361.5L167.2 363.4L167.5 365.1L167.8 366.7L168.0 368.2L168.2 369.6L168.5 370.9L168.8 372.2L169.0 373.4L169.2 374.6L169.5 375.6L169.8 376.7L170.0 377.6L170.2 378.5L170.5 379.4L170.8 380.2L171.0 381.0L171.2 381.8L171.5 382.6L171.8 383.3L172.0 384.0L172.2 384.6L172.5 385.3L172.8 385.8L173.0 386.4L173.2 386.9L173.5 387.3L173.8 387.8L174.0 388.2L174.2 388.7L174.5 389.1L174.8 389.5L175.0 389.8L175.2 390.2L175.5 390.5L175.8 390.8L176.0 391.1L176.2 391.3L176.5 391.5L176.8 391.7L177.0 391.8L177.2 391.9L177.5 392.0L177.8 392.2L178.0 392.3L178.2 392.4L178.5 392.5L178.8 392.6L179.0 392.6L179.2 392.7L179.5 392.8L179.8 392.8L180.0 392.9L180.2 392.9L180.5 393.0L180.8 393.0L181.0 393.0L181.2 393.0L181.5 393.0L181.8 392.9L182.0 392.9L182.2 392.9L182.5 392.8L182.8 392.8L183.0 392.7L183.2 392.7L183.5 392.6L183.8 392.6L184.0 392.5L184.2 392.5L184.5 392.4L184.8 392.4L185.0 392.3L185.2 392.3L185.5 392.3L185.8 392.2L186.0 392.2L186.2 392.1L186.5 392.1L186.8 392.0L187.0 392.0L187.2 391.9L187.5 391.9L187.8 391.8L188.0 391.8L188.2 391.8L188.5 391.7L188.8 391.7L189.0 391.7L189.2 391.7L189.5 391.7L189.8 391.7L190.0 391.7L190.2 391.7L190.5 391.8L190.8 391.8L191.0 391.8L191.2 391.9L191.5 391.9L191.8 392.0L192.0 392.0L192.2 392.1L192.5 392.1L192.8 392.2L193.0 392.2L193.2 392.3L193.5 392.4L193.8 392.4L194.0 392.5L194.2 392.5L194.5 392.6L194.8 392.7L195.0 392.8L195.2 392.9L195.5 393.0L195.8 393.1L196.0 393.2L196.2 393.3L196.5 393.4L196.8 393.5L197.0 393.5L197.2 393.6L197.5 393.7L197.8 393.8L198.0 393.9L198.2 393.9L198.5 394.0L198.8 394.0L199.0 394.1L199.2 394.2L199.5 394.2L199.8 394.3L200.0 394.3L200.2 394.4L200.5 394.4L200.8 394.5L201.0 394.5L201.2 394.6L201.5 394.6L201.8 394.7L202.0 394.7L202.2 394.7L202.5 394.7L202.8 394.8L203.0 394.8L203.2 394.8L203.5 394.8L203.8 394.8L204.0 394.8L204.2 394.8L204.5 394.7L204.8 394.7L205.0 394.6L205.2 394.5L205.5 394.5L205.8 394.4L206.0 394.3L206.2 394.2L206.5 394.1L206.8 394.0L207.0 393.9L207.2 393.7L207.5 393.6L207.8 393.5L208.0 393.3L208.2 393.2L208.5 393.0L208.8 392.7L209.0 392.5L209.2 392.2L209.5 391.9L209.8 391.6L210.0 391.3L210.2 390.9L210.5 390.5L210.8 390.1L211.0 389.7L211.2 389.2L211.5 388.7L211.8 388.1L212.0 387.5L212.2 386.7L212.5 385.9L212.8 385.1L213.0 384.2L213.2 383.3L213.5 382.4L213.8 381.4L214.0 380.3L214.2 379.1L214.5 377.9L214.8 376.5L215.0 375.1L215.2 373.6L215.5 372.1L215.8 370.5L216.0 368.8L216.2 367.0L216.5 365.1L216.8 363.1L217.0 361.1L217.2 359.0L217.5 356.7L217.8 354.4L218.0 352.0L218.2 349.5L218.5 346.9L218.8 344.3L219.0 341.6L219.2 338.8L219.5 336.0L219.8 333.2L220.0 330.3L220.2 327.2L220.5 324.1L220.8 320.8L221.0 317.6L221.2 314.3L221.5 311.1L221.8 308.0L222.0 304.9L222.2 301.8L222.5 298.7L222.8 295.7L223.0 292.8L223.2 290.0L223.5 287.5L223.8 285.0L224.0 282.7L224.2 280.4L224.5 278.2L224.8 276.1L225.0 274.1L225.2 272.2L225.5 270.4L225.8 268.8L226.0 267.2L226.2 265.6L226.5 264.2L226.8 262.8L227.0 261.5L227.2 260.3L227.5 259.1L227.8 258.1L228.0 257.0L228.2 255.8L228.5 254.8L228.8 253.7L229.0 252.9L229.2 252.1L229.5 251.6L229.8 251.3L230.0 251.3L230.2 251.3L230.5 251.4L230.8 251.4L231.0 251.4L231.2 251.5L231.5 251.6L231.8 251.7L232.0 251.9L232.2 252.6L232.5 253.6L232.8 254.7L233.0 256.0L233.2 257.4L233.5 258.7L233.8 260.0L234.0 261.5L234.2 263.2L234.5 264.9L234.8 266.8L235.0 268.8L235.2 270.9L235.5 273.1L235.8 275.7L236.0 278.4L236.2 281.4L236.5 284.3L236.8 287.3L237.0 290.2L237.2 293.1L237.5 296.1L237.8 299.1L238.0 302.2L238.2 305.2L238.5 308.2L238.8 311.2L239.0 314.3L239.2 317.3L239.5 320.3L239.8 323.3L240.0 326.3L240.2 329.3L240.5 332.3L240.8 335.4L241.0 338.4L241.2 341.3L241.5 344.1L241.8 346.8L242.0 349.5L242.2 352.2L242.5 354.8L242.8 357.2L243.0 359.5L243.2 361.6L243.5 363.3L243.8 364.9L244.0 366.4L244.2 367.8L244.5 369.2L244.8 370.4L245.0 371.6L245.2 372.6L245.5 373.5L245.8 374.3L246.0 375.0L246.2 375.5L246.5 376.0L246.8 376.5L247.0 376.9L247.2 377.2L247.5 377.6L247.8 377.9L248.0 378.2L248.2 378.5L248.5 378.7L248.8 379.0L249.0 379.3L249.2 379.5L249.5 379.7L249.8 379.8L250.0 379.8L250.2 379.7L250.5 379.6L250.8 379.4L251.0 379.2L251.2 379.0L251.5 378.8L251.8 378.5L252.0 378.2L252.2 377.8L252.5 377.4L252.8 376.9L253.0 376.3L253.2 375.7L253.5 375.0L253.8 374.3L254.0 373.7L254.2 373.0L254.5 372.3L254.8 371.7L255.0 371.0L255.2 370.2L255.5 369.5L255.8 368.7L256.0 367.9L256.2 367.1L256.5 366.3L256.8 365.5L257.0 364.7L257.2 363.9L257.5 363.1L257.8 362.4L258.0 361.6L258.2 360.8L258.5 360.0L258.8 359.2L259.0 358.5L259.2 357.7L259.5 356.9L259.8 356.1L260.0 355.3L260.2 354.5L260.5 353.7L260.8 352.9L261.0 352.1L261.2 351.4L261.5 350.6L261.8 349.8L262.0 349.1L262.2 348.3L262.5 347.6L262.8 346.8L263.0 346.0L263.2 345.2L263.5 344.4L263.8 343.6L264.0 342.8L264.2 341.9L264.5 341.0L264.8 340.0L265.0 339.0L265.2 337.9L265.5 336.8L265.8 335.7L266.0 334.7L266.2 333.7L266.5 332.8L266.8 331.9L267.0 331.0L267.2 330.1L267.5 329.3L267.8 328.5L268.0 327.8L268.2 327.0L268.5 326.3L268.8 325.7L269.0 325.0L269.2 324.4L269.5 323.8L269.8 323.2L270.0 322.7L270.2 322.2L270.5 321.6L270.8 321.2L271.0 320.7L271.2 320.2L271.5 319.8L271.8 319.4L272.0 319.0L272.2 318.5L272.5 318.1L272.8 317.8L273.0 317.4L273.2 317.0L273.5 316.7L273.8 316.3L274.0 316.0L274.2 315.7L274.5 315.4L274.8 315.1L275.0 314.8L275.2 314.5L275.5 314.3L275.8 314.0L276.0 313.7L276.2 313.5L276.5 313.3L276.8 313.0L277.0 312.8L277.2 312.6L277.5 312.4L277.8 312.2L278.0 312.0L278.2 311.8L278.5 311.6L278.8 311.4L279.0 311.3L279.2 311.1L279.5 310.9L279.8 310.8L280.0 310.6L280.2 310.4L280.5 310.3L280.8 310.2L281.0 310.0L281.2 309.9L281.5 309.8L281.8 309.7L282.0 309.6L282.2 309.5L282.5 309.4L282.8 309.3L283.0 309.2L283.2 309.1L283.5 309.0L283.8 308.9L284.0 308.8L284.2 308.7L284.5 308.6L284.8 308.5L285.0 308.4L285.2 308.4L285.5 308.3L285.8 308.3L286.0 308.2L286.2 308.2L286.5 308.2L286.8 308.1L287.0 308.1L287.2 308.1L287.5 308.1L287.8 308.1L288.0 308.1L288.2 308.1L288.5 308.1L288.8 308.1L289.0 308.1L289.2 308.1L289.5 308.1L289.8 308.0L290.0 308.0L290.2 308.0L290.5 308.0L290.8 308.0L291.0 308.0L291.2 308.0L291.5 308.0L291.8 308.0L292.0 308.0L292.2 308.0L292.5 308.0L292.8 308.0L293.0 308.0L293.2 308.0L293.5 308.0L293.8 308.0L294.0 308.0L294.2 308.0L294.5 308.0L294.8 308.0L295.0 308.0L295.2 308.0L295.5 308.0L295.8 308.0L296.0 308.0L296.2 308.0L296.5 308.0L296.8 308.0L297.0 308.0L297.2 308.0L297.5 308.0L297.8 308.0L298.0 308.0L298.2 308.0L298.5 308.0L298.8 308.0L299.0 308.0L299.2 308.0L299.5 308.0L299.8 308.0L300.0 308.0L300.2 308.0L300.5 308.0L300.8 308.0L301.0 308.0L301.2 308.0L301.5 308.0L301.8 308.0L302.0 308.0L302.2 308.0L302.5 308.0L302.8 308.0L303.0 308.0L303.2 308.0L303.5 308.0L303.8 308.0L304.0 308.0L304.2 308.0L304.5 308.0L304.8 308.0L305.0 308.0L305.2 308.0L305.5 308.0L305.8 308.0L306.0 308.0L306.2 308.0L306.5 308.0L306.8 308.0L307.0 308.0L307.2 308.0L307.5 308.0L307.8 308.0L308.0 308.0L308.2 308.0L308.5 308.0L308.8 308.0L309.0 308.0L309.2 308.0L309.5 308.0L309.8 308.0L310.0 308.0L310.2 308.0L310.5 308.0L310.8 308.0L311.0 308.0L311.2 308.0L311.5 308.0L311.8 308.0L312.0 308.0L312.2 308.0L312.5 308.0L312.8 308.0L313.0 308.0L313.2 308.0L313.5 308.0L313.6 308.0" fill="none" stroke="#0000ff" stroke-width="1.35" stroke-linejoin="round"/>
<path d="M60.5 286.0L61.0 285.5L61.5 285.0L62.0 284.4L62.5 283.9L63.0 283.4L63.5 282.9L64.0 282.3L64.5 281.8L65.0 281.3L65.5 280.7L66.0 280.2L66.5 279.7L67.0 279.1L67.5 278.6L68.0 278.1L68.5 277.5L69.0 277.0L69.5 276.4L70.0 275.9L70.5 275.4L71.0 274.8L71.5 274.3L72.0 273.7L72.5 273.1L73.0 272.5L73.5 272.0L74.0 271.4L74.5 270.8L75.0 270.2L75.5 269.6L76.0 269.0L76.5 268.3L77.0 267.7L77.5 267.1L78.0 266.4L78.5 265.8L79.0 265.1L79.5 264.4L80.0 263.8L80.5 263.1L81.0 262.3L81.5 261.6L82.0 260.9L82.5 260.1L83.0 259.4L83.5 258.6L84.0 257.8L84.5 257.1L85.0 256.3L85.5 255.5L86.0 254.6L86.5 253.8L87.0 252.9L87.5 252.1L88.0 251.2L88.5 250.2L89.0 249.3L89.5 248.4L90.0 247.4L90.5 246.5L91.0 245.5L91.5 244.5L92.0 243.5L92.5 242.5L93.0 241.5L93.5 240.5L94.0 239.5L94.5 238.4L95.0 237.3L95.5 236.3L96.0 235.2L96.5 234.1L97.0 233.1L97.5 232.1L98.0 231.1L98.5 230.1L99.0 229.1L99.5 228.2L100.0 227.3L100.5 226.3L101.0 225.5L101.5 224.6L102.0 223.8L102.5 223.1L103.0 222.4L103.5 221.8L104.0 221.2L104.5 220.6L105.0 220.0L105.5 219.5L106.0 219.1L106.5 218.7L107.0 218.3L107.5 217.9L108.0 217.6L108.5 217.3L109.0 217.0L109.5 216.8L110.0 216.6L110.5 216.4L111.0 216.2L111.5 216.1L112.0 215.9L112.5 215.8L113.0 215.7L113.5 215.7L114.0 215.6L114.5 215.6L115.0 215.5L115.5 215.5L116.0 215.5L116.5 215.4L117.0 215.4L117.5 215.4L118.0 215.4L118.5 215.4L119.0 215.4L119.5 215.4L120.0 215.4L120.5 215.4L121.0 215.4L121.5 215.4L122.0 215.4L122.5 215.4L123.0 215.4L123.5 215.4L124.0 215.4L124.5 215.4L125.0 215.4L125.5 215.4L126.0 215.4L126.5 215.4L127.0 215.4L127.5 215.4L128.0 215.4L128.5 215.4L129.0 215.4L129.5 215.4L130.0 215.4L130.5 215.4L131.0 215.4L131.5 215.4L132.0 215.4L132.5 215.4L133.0 215.4L133.5 215.4L134.0 215.4L134.5 215.4L135.0 215.4L135.5 215.4L136.0 215.4L136.5 215.4L137.0 215.4L137.5 215.4L138.0 215.4L138.5 215.4L139.0 215.4L139.5 215.4L140.0 215.5L140.5 215.5L141.0 215.5L141.5 215.5L142.0 215.5L142.5 215.5L143.0 215.5L143.5 215.5L144.0 215.5L144.5 215.5L145.0 215.5L145.5 215.5L146.0 215.5L146.5 215.5L147.0 215.5L147.5 215.5L148.0 215.5L148.5 215.5L149.0 215.5L149.5 215.5L150.0 215.5L150.5 215.5L151.0 215.5L151.5 215.5L152.0 215.5L152.5 215.5L153.0 215.5L153.5 215.5L154.0 215.5L154.5 215.5L155.0 215.5L155.5 215.5L156.0 215.5L156.5 215.5L157.0 215.5L157.5 215.5L158.0 215.5L158.5 215.5L159.0 215.5L159.5 215.5L160.0 215.5L160.5 215.5L160.9 215.5L161.3 217.5 L161.3 400.2L219.2 400.2L220.4 393.6L221.1 376.8L221.6 351.7L222.0 320.0L222.3 279.0L222.7 257.0L223.1 237.0L223.7 223.7L224.7 217.0L226.4 215.5L235.8 215.5L237.1 217.9L237.8 227.0L238.2 250.0L238.6 300.0L238.9 335.0L239.3 360.0L239.8 385.2L240.6 395.3L242.2 399.4L244.3 400.2L253.0 400.2L253.0 400.2L253.5 399.9L254.0 399.5L254.5 399.0L255.0 398.5L255.5 397.8L256.0 397.1L256.5 396.4L257.0 395.7L257.5 394.8L258.0 393.7L258.5 392.6L259.0 391.4L259.5 390.1L260.0 388.8L260.5 387.6L261.0 386.3L261.5 384.9L262.0 383.5L262.5 382.1L263.0 380.7L263.5 379.3L264.0 378.0L264.5 376.6L265.0 375.2L265.5 373.8L266.0 372.4L266.5 371.1L267.0 369.7L267.5 368.5L268.0 367.2L268.5 366.0L269.0 364.8L269.5 363.7L270.0 362.6L270.5 361.5L271.0 360.4L271.5 359.3L272.0 358.3L272.5 357.4L273.0 356.4L273.5 355.5L274.0 354.6L274.5 353.7L275.0 352.8L275.5 352.0L276.0 351.2L276.5 350.4L277.0 349.6L277.5 348.8L278.0 348.1L278.5 347.3L279.0 346.6L279.5 345.9L280.0 345.2L280.5 344.5L281.0 343.8L281.5 343.1L282.0 342.5L282.5 341.8L283.0 341.2L283.5 340.5L284.0 339.9L284.5 339.3L285.0 338.7L285.5 338.1L286.0 337.5L286.5 336.9L287.0 336.4L287.5 335.8L288.0 335.3L288.5 334.7L289.0 334.2L289.5 333.7L290.0 333.1L290.5 332.7L291.0 332.2L291.5 331.7L292.0 331.2L292.5 330.7L293.0 330.3L293.5 329.8L294.0 329.4L294.5 328.9L295.0 328.5L295.5 328.1L296.0 327.7L296.5 327.3L297.0 326.9L297.5 326.5L298.0 326.1L298.5 325.8L299.0 325.4L299.5 325.0L300.0 324.7L300.5 324.4L301.0 324.0L301.5 323.7L302.0 323.4L302.5 323.1L303.0 322.8L303.5 322.5L304.0 322.3L304.5 322.0L305.0 321.7L305.5 321.5L306.0 321.2L306.5 321.0L307.0 320.8L307.5 320.5L308.0 320.3L308.5 320.1L309.0 319.9L309.5 319.8L310.0 319.6L310.5 319.4L311.0 319.2L311.5 319.1L312.0 318.9L312.5 318.8L313.0 318.6L313.5 318.5L313.6 318.5" fill="none" stroke="#ff0000" stroke-width="1.35" stroke-linejoin="round"/>
</g>
<circle cx="126.4" cy="215.6" r="3.2" fill="#000"/>
<circle cx="131.0" cy="215.6" r="3.2" fill="#000"/>
<circle cx="141.7" cy="215.6" r="3.2" fill="#000"/>
<circle cx="144.6" cy="215.6" r="3.2" fill="#000"/>
<circle cx="147.6" cy="215.6" r="3.2" fill="#000"/>
<circle cx="150.6" cy="215.6" r="3.2" fill="#000"/>
<circle cx="160.7" cy="215.6" r="3.2" fill="#000"/>
<circle cx="228.9" cy="215.6" r="3.2" fill="#000"/>
<circle cx="233.8" cy="215.6" r="3.2" fill="#000"/>
<circle cx="162.0" cy="400.2" r="2.75" fill="none" stroke="#000" stroke-width="0.8"/>
<circle cx="169.7" cy="400.2" r="2.75" fill="none" stroke="#000" stroke-width="0.8"/>
<circle cx="171.0" cy="400.2" r="2.75" fill="none" stroke="#000" stroke-width="0.8"/>
<circle cx="178.5" cy="400.2" r="2.75" fill="none" stroke="#000" stroke-width="0.8"/>
<circle cx="181.2" cy="400.2" r="2.75" fill="none" stroke="#000" stroke-width="0.8"/>
<circle cx="190.0" cy="400.2" r="2.75" fill="none" stroke="#000" stroke-width="0.8"/>
<circle cx="199.1" cy="400.2" r="2.75" fill="none" stroke="#000" stroke-width="0.8"/>
<circle cx="200.9" cy="400.2" r="2.75" fill="none" stroke="#000" stroke-width="0.8"/>
<circle cx="213.3" cy="400.2" r="2.75" fill="none" stroke="#000" stroke-width="0.8"/>
<circle cx="216.0" cy="400.2" r="2.75" fill="none" stroke="#000" stroke-width="0.8"/>
<circle cx="244.3" cy="400.2" r="2.75" fill="none" stroke="#000" stroke-width="0.8"/>
<circle cx="246.7" cy="400.2" r="2.75" fill="none" stroke="#000" stroke-width="0.8"/>
<path d="M60.5 11.30h6" stroke="#3333ff" stroke-width="0.6"/>
<path d="M60.5 58.75h6" stroke="#3333ff" stroke-width="0.6"/>
<path d="M60.5 106.20h6" stroke="#3333ff" stroke-width="0.6"/>
<path d="M60.5 153.65h6" stroke="#3333ff" stroke-width="0.6"/>
<path d="M60.5 201.10h6" stroke="#3333ff" stroke-width="0.6"/>
<path d="M60.5 35.03h3.8" stroke="#3333ff" stroke-width="0.6"/>
<path d="M60.5 82.47h3.8" stroke="#3333ff" stroke-width="0.6"/>
<path d="M60.5 129.93h3.8" stroke="#3333ff" stroke-width="0.6"/>
<path d="M60.5 177.38h3.8" stroke="#3333ff" stroke-width="0.6"/>
<path d="M313.6 11.30h-6" stroke="#ff2222" stroke-width="0.6"/>
<path d="M313.6 58.75h-6" stroke="#ff2222" stroke-width="0.6"/>
<path d="M313.6 106.20h-6" stroke="#ff2222" stroke-width="0.6"/>
<path d="M313.6 153.65h-6" stroke="#ff2222" stroke-width="0.6"/>
<path d="M313.6 201.10h-6" stroke="#ff2222" stroke-width="0.6"/>
<path d="M92.14 9.4v6M92.14 203.0v-6" stroke="#888" stroke-width="0.6"/>
<path d="M123.78 9.4v6M123.78 203.0v-6" stroke="#888" stroke-width="0.6"/>
<path d="M155.41 9.4v6M155.41 203.0v-6" stroke="#888" stroke-width="0.6"/>
<path d="M187.05 9.4v6M187.05 203.0v-6" stroke="#888" stroke-width="0.6"/>
<path d="M218.69 9.4v6M218.69 203.0v-6" stroke="#888" stroke-width="0.6"/>
<path d="M250.33 9.4v6M250.33 203.0v-6" stroke="#888" stroke-width="0.6"/>
<path d="M281.96 9.4v6M281.96 203.0v-6" stroke="#888" stroke-width="0.6"/>
<path d="M60.5 400.20h6" stroke="#3333ff" stroke-width="0.6"/>
<path d="M313.6 400.20h-6" stroke="#b02080" stroke-width="0.8"/>
<path d="M60.5 363.26h6" stroke="#3333ff" stroke-width="0.6"/>
<path d="M313.6 363.26h-6" stroke="#b02080" stroke-width="0.8"/>
<path d="M60.5 326.32h6" stroke="#3333ff" stroke-width="0.6"/>
<path d="M313.6 326.32h-6" stroke="#b02080" stroke-width="0.8"/>
<path d="M60.5 289.38h6" stroke="#3333ff" stroke-width="0.6"/>
<path d="M313.6 289.38h-6" stroke="#b02080" stroke-width="0.8"/>
<path d="M60.5 252.44h6" stroke="#3333ff" stroke-width="0.6"/>
<path d="M313.6 252.44h-6" stroke="#b02080" stroke-width="0.8"/>
<path d="M60.5 215.50h6" stroke="#3333ff" stroke-width="0.6"/>
<path d="M313.6 215.50h-6" stroke="#b02080" stroke-width="0.8"/>
<path d="M60.5 381.73h3.8" stroke="#3333ff" stroke-width="0.6"/>
<path d="M313.6 381.73h-3.8" stroke="#5555ff" stroke-width="0.6"/>
<path d="M60.5 344.79h3.8" stroke="#3333ff" stroke-width="0.6"/>
<path d="M313.6 344.79h-3.8" stroke="#5555ff" stroke-width="0.6"/>
<path d="M60.5 307.85h3.8" stroke="#3333ff" stroke-width="0.6"/>
<path d="M313.6 307.85h-3.8" stroke="#5555ff" stroke-width="0.6"/>
<path d="M60.5 270.91h3.8" stroke="#3333ff" stroke-width="0.6"/>
<path d="M313.6 270.91h-3.8" stroke="#5555ff" stroke-width="0.6"/>
<path d="M60.5 233.97h3.8" stroke="#3333ff" stroke-width="0.6"/>
<path d="M313.6 233.97h-3.8" stroke="#5555ff" stroke-width="0.6"/>
<path d="M92.24 211.0v6M92.24 404.4v-6" stroke="#4444ff" stroke-width="0.5"/>
<path d="M123.88 211.0v6M123.88 404.4v-6" stroke="#4444ff" stroke-width="0.5"/>
<path d="M155.51 211.0v6M155.51 404.4v-6" stroke="#4444ff" stroke-width="0.5"/>
<path d="M187.15 211.0v6M187.15 404.4v-6" stroke="#4444ff" stroke-width="0.5"/>
<path d="M218.79 211.0v6M218.79 404.4v-6" stroke="#4444ff" stroke-width="0.5"/>
<path d="M250.43 211.0v6M250.43 404.4v-6" stroke="#4444ff" stroke-width="0.5"/>
<path d="M282.06 211.0v6M282.06 404.4v-6" stroke="#4444ff" stroke-width="0.5"/>
<path d="M60.50 9.45H313.45" stroke="#000" stroke-width="0.90" fill="none" stroke-linecap="square"/>
<path d="M60.50 203.1H313.45" stroke="#000" stroke-width="0.90" fill="none" stroke-linecap="square"/>
<path d="M60.50 9.45V203.1M313.45 9.45V203.1" stroke="#000" stroke-width="0.90" fill="none" stroke-linecap="square"/>
<path d="M60.50 210.9H313.45" stroke="#222" stroke-width="0.80" fill="none" stroke-linecap="square"/>
<path d="M60.50 404.8H313.45" stroke="#222" stroke-width="0.90" fill="none" stroke-linecap="square"/>
<path d="M60.50 210.9V404.8M313.45 210.9V404.8" stroke="#000" stroke-width="0.90" fill="none" stroke-linecap="square"/>
<g font-family="'Liberation Serif', 'DejaVu Serif', serif" font-size="13.8">
<text x="55.6" y="15.9" text-anchor="end" fill="#0000ff" >10</text>
<text x="55.6" y="63.4" text-anchor="end" fill="#0000ff" >5</text>
<text x="55.6" y="110.8" text-anchor="end" fill="#0000ff" >0</text>
<text x="55.6" y="158.2" text-anchor="end" fill="#0000ff" >5</text>
<text transform="translate(38.6,158.2) scale(1.2,1)" x="0" y="0" fill="#0000ff">−</text>
<text x="55.6" y="205.7" text-anchor="end" fill="#0000ff" >10</text>
<text transform="translate(31.7,205.7) scale(1.2,1)" x="0" y="0" fill="#0000ff">−</text>
<text x="318.6" y="15.9" text-anchor="start" fill="#ff0000" >0.4</text>
<text x="318.6" y="63.4" text-anchor="start" fill="#ff0000" >0.2</text>
<text x="318.6" y="110.8" text-anchor="start" fill="#ff0000" >0.0</text>
<text transform="translate(319.2,158.2) scale(1.2,1)" x="0" y="0" fill="#ff0000">−</text>
<text x="329.3" y="158.2" text-anchor="start" fill="#ff0000" >0.2</text>
<text transform="translate(319.2,205.7) scale(1.2,1)" x="0" y="0" fill="#ff0000">−</text>
<text x="329.3" y="205.7" text-anchor="start" fill="#ff0000" >0.4</text>
<text x="55.6" y="404.8" text-anchor="end" fill="#0000ff" >0.0</text>
<text x="318.6" y="404.8" text-anchor="start" fill="#ff0000" >0.0</text>
<text x="55.6" y="367.9" text-anchor="end" fill="#0000ff" >0.2</text>
<text x="318.6" y="367.9" text-anchor="start" fill="#ff0000" >0.2</text>
<text x="55.6" y="330.9" text-anchor="end" fill="#0000ff" >0.4</text>
<text x="318.6" y="330.9" text-anchor="start" fill="#ff0000" >0.4</text>
<text x="55.6" y="294.0" text-anchor="end" fill="#0000ff" >0.6</text>
<text x="318.6" y="294.0" text-anchor="start" fill="#ff0000" >0.6</text>
<text x="55.6" y="257.0" text-anchor="end" fill="#0000ff" >0.8</text>
<text x="318.6" y="257.0" text-anchor="start" fill="#ff0000" >0.8</text>
<text x="55.6" y="220.1" text-anchor="end" fill="#0000ff" >1.0</text>
<text x="318.6" y="220.1" text-anchor="start" fill="#ff0000" >1.0</text>
<g transform="translate(19.1,121.3) rotate(-90)" fill="#0000ff">
<text x="2.2" y="0.0" font-size="15.0" font-style="italic">f</text>
<text x="6.7" y="1.9" font-size="9.8">0</text>
<text x="13.0" y="0.0" font-size="16.5">(</text>
<text x="18.5" y="0.0" font-size="15.0" font-style="italic">x</text>
<text x="25.1" y="0.0" font-size="16.5">)</text>
<text transform="translate(1.37,-9.65) scale(1.269,0.565)" x="0" y="0" font-size="14.0">^</text>
</g>
<g transform="translate(370.1,119.0) rotate(-90)" fill="#ff0000">
<text x="2.0" y="0.0" font-size="15.0" font-style="italic">f</text>
<text x="7.8" y="0.0" font-size="16.5">(</text>
<text x="13.4" y="0.0" font-size="15.0" font-style="italic">x</text>
<text x="20.7" y="0.0" font-size="16.5">)</text>
<text transform="translate(1.35,-9.96) scale(1.337,0.490)" x="0" y="0" font-size="14.0">^</text>
</g>
<g transform="translate(25.9,334.2) rotate(-90)" fill="#0000ff">
<text x="1.0" y="0.0" font-size="15.0" font-style="italic">p</text>
<text x="8.1" y="2.0" font-size="9.8">0</text>
<text x="13.2" y="0.0" font-size="16.5">(</text>
<text x="19.6" y="1.0" font-size="18.0">+</text>
<text x="29.8" y="0.0" font-size="13.7">1</text>
<text x="36.6" y="0.0" font-size="15.5">|</text>
<text x="40.0" y="0.0" font-size="15.0" font-style="italic">x</text>
<text x="47.1" y="0.0" font-size="16.5">)</text>
<text transform="translate(0.25,-7.24) scale(1.337,0.471)" x="0" y="0" font-size="14.0">^</text>
</g>
<g transform="translate(357.3,332.0) rotate(-90)" fill="#ff0000">
<text x="1.0" y="0.0" font-size="15.0" font-style="italic">p</text>
<text x="7.4" y="0.0" font-size="16.5">(</text>
<text x="14.5" y="1.0" font-size="18.0">+</text>
<text x="24.4" y="0.0" font-size="13.7">1</text>
<text x="30.9" y="0.0" font-size="15.5">|</text>
<text x="34.9" y="0.0" font-size="15.0" font-style="italic">x</text>
<text x="42.0" y="0.0" font-size="16.5">)</text>
<text transform="translate(0.25,-7.24) scale(1.337,0.471)" x="0" y="0" font-size="14.0">^</text>
</g>
<text x="186.9" y="425.7" text-anchor="middle" fill="#111" font-style="italic">x</text>
<path d="M389.4 10V203" stroke="#ff0000" stroke-width="1.15" fill="none"/>
<path d="M384.9 13.4Q388.1 12.2 389.4 9.5Q390.7 12.2 393.9 13.4" stroke="#ff0000" stroke-width="1.1" fill="none" stroke-linecap="round" stroke-linejoin="round"/>
<path d="M384.9 199.5Q388.1 200.7 389.4 203.4Q390.7 200.7 393.9 199.5" stroke="#ff0000" stroke-width="1.1" fill="none" stroke-linecap="round" stroke-linejoin="round"/>
<path d="M385 105.6H393.8" stroke="#ff0000" stroke-width="1.7"/>
<text x="394.0" y="61" fill="#ff0000"><tspan font-family="'DejaVu Math TeX Gyre', 'DejaVu Sans', 'Liberation Serif', serif" font-size="12.6">𝒞</tspan><tspan x="402.2" y="64.3" font-size="12.5">+</tspan><tspan x="409.8" y="64.0" font-size="10.3">1</tspan></text>
<text x="394.0" y="158.6" fill="#ff0000"><tspan font-family="'DejaVu Math TeX Gyre', 'DejaVu Sans', 'Liberation Serif', serif" font-size="12.6">𝒞</tspan><tspan x="402.5" y="161.9" font-size="12.5">−</tspan><tspan x="409.8" y="161.6" font-size="10.3">1</tspan></text>
<rect x="373.3" y="329.4" width="104.3" height="74.9" fill="#fff" stroke="#222" stroke-width="0.7"/>
<path d="M378.2 340.6H401.6" stroke="#0000ff" stroke-width="1"/>
<path d="M378.2 358H401.6" stroke="#ff0000" stroke-width="1"/>
<rect x="378.2" y="369.9" width="23.4" height="12.2" fill="#e6e6e6"/>
<circle cx="389.8" cy="376.2" r="2.7" fill="#000"/>
<circle cx="389.8" cy="393.4" r="2.5" fill="none" stroke="#000" stroke-width="0.7"/>
<text x="405.4" y="345.1" text-anchor="start" fill="#111" textLength="63.7" lengthAdjust="spacingAndGlyphs">GPC (EP)</text>
<text x="405.4" y="362.6" text-anchor="start" fill="#111" textLength="64.9" lengthAdjust="spacingAndGlyphs">CASIMAC</text>
<text x="405.4" y="380.6" text-anchor="start" fill="#111" textLength="49.2" lengthAdjust="spacingAndGlyphs">class +1</text>
<text x="405.4" y="397.8" text-anchor="start" fill="#111" textLength="49.2" lengthAdjust="spacingAndGlyphs">class −1</text>
</g>
</svg></body></html>
